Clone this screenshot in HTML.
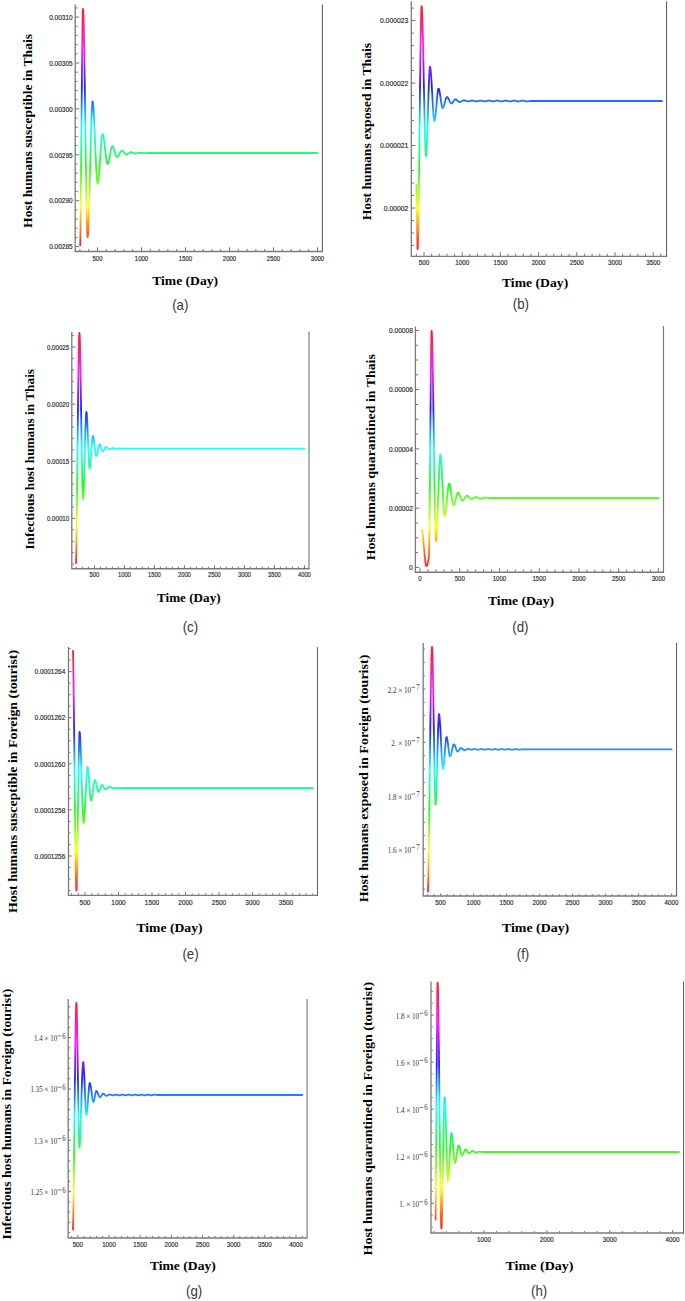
<!DOCTYPE html>
<html><head><meta charset="utf-8"><style>
html,body{margin:0;padding:0;background:#fff;}
svg{display:block;}
</style></head><body>
<svg width="685" height="1301" viewBox="0 0 685 1301">
<rect width="685" height="1301" fill="#fff"/>
<line x1="75.20" y1="4.40" x2="75.20" y2="251.50" stroke="#7a7a7a" stroke-width="1.3"/>
<line x1="74.60" y1="251.50" x2="322.90" y2="251.50" stroke="#7a7a7a" stroke-width="1.4"/>
<line x1="322.40" y1="4.40" x2="322.40" y2="251.50" stroke="#555" stroke-width="1"/>
<line x1="75.70" y1="246.60" x2="79.20" y2="246.60" stroke="#333" stroke-width="0.7"/>
<line x1="75.70" y1="237.42" x2="77.60" y2="237.42" stroke="#333" stroke-width="0.7"/>
<line x1="75.70" y1="228.24" x2="77.60" y2="228.24" stroke="#333" stroke-width="0.7"/>
<line x1="75.70" y1="219.06" x2="77.60" y2="219.06" stroke="#333" stroke-width="0.7"/>
<line x1="75.70" y1="209.88" x2="77.60" y2="209.88" stroke="#333" stroke-width="0.7"/>
<line x1="75.70" y1="200.70" x2="79.20" y2="200.70" stroke="#333" stroke-width="0.7"/>
<line x1="75.70" y1="191.52" x2="77.60" y2="191.52" stroke="#333" stroke-width="0.7"/>
<line x1="75.70" y1="182.34" x2="77.60" y2="182.34" stroke="#333" stroke-width="0.7"/>
<line x1="75.70" y1="173.16" x2="77.60" y2="173.16" stroke="#333" stroke-width="0.7"/>
<line x1="75.70" y1="163.98" x2="77.60" y2="163.98" stroke="#333" stroke-width="0.7"/>
<line x1="75.70" y1="154.80" x2="79.20" y2="154.80" stroke="#333" stroke-width="0.7"/>
<line x1="75.70" y1="145.62" x2="77.60" y2="145.62" stroke="#333" stroke-width="0.7"/>
<line x1="75.70" y1="136.44" x2="77.60" y2="136.44" stroke="#333" stroke-width="0.7"/>
<line x1="75.70" y1="127.26" x2="77.60" y2="127.26" stroke="#333" stroke-width="0.7"/>
<line x1="75.70" y1="118.08" x2="77.60" y2="118.08" stroke="#333" stroke-width="0.7"/>
<line x1="75.70" y1="108.90" x2="79.20" y2="108.90" stroke="#333" stroke-width="0.7"/>
<line x1="75.70" y1="99.72" x2="77.60" y2="99.72" stroke="#333" stroke-width="0.7"/>
<line x1="75.70" y1="90.54" x2="77.60" y2="90.54" stroke="#333" stroke-width="0.7"/>
<line x1="75.70" y1="81.36" x2="77.60" y2="81.36" stroke="#333" stroke-width="0.7"/>
<line x1="75.70" y1="72.18" x2="77.60" y2="72.18" stroke="#333" stroke-width="0.7"/>
<line x1="75.70" y1="63.00" x2="79.20" y2="63.00" stroke="#333" stroke-width="0.7"/>
<line x1="75.70" y1="53.82" x2="77.60" y2="53.82" stroke="#333" stroke-width="0.7"/>
<line x1="75.70" y1="44.64" x2="77.60" y2="44.64" stroke="#333" stroke-width="0.7"/>
<line x1="75.70" y1="35.46" x2="77.60" y2="35.46" stroke="#333" stroke-width="0.7"/>
<line x1="75.70" y1="26.28" x2="77.60" y2="26.28" stroke="#333" stroke-width="0.7"/>
<line x1="75.70" y1="17.10" x2="79.20" y2="17.10" stroke="#333" stroke-width="0.7"/>
<line x1="75.70" y1="7.92" x2="77.60" y2="7.92" stroke="#333" stroke-width="0.7"/>
<text transform="translate(72.60,249.30) scale(0.852,1)" font-family="'Liberation Sans', sans-serif" font-size="7.6" fill="#2a2a2a" stroke="#2a2a2a" stroke-width="0.18" text-anchor="end">0.00285</text>
<text transform="translate(72.60,203.40) scale(0.852,1)" font-family="'Liberation Sans', sans-serif" font-size="7.6" fill="#2a2a2a" stroke="#2a2a2a" stroke-width="0.18" text-anchor="end">0.00290</text>
<text transform="translate(72.60,157.50) scale(0.852,1)" font-family="'Liberation Sans', sans-serif" font-size="7.6" fill="#2a2a2a" stroke="#2a2a2a" stroke-width="0.18" text-anchor="end">0.00295</text>
<text transform="translate(72.60,111.60) scale(0.852,1)" font-family="'Liberation Sans', sans-serif" font-size="7.6" fill="#2a2a2a" stroke="#2a2a2a" stroke-width="0.18" text-anchor="end">0.00300</text>
<text transform="translate(72.60,65.70) scale(0.852,1)" font-family="'Liberation Sans', sans-serif" font-size="7.6" fill="#2a2a2a" stroke="#2a2a2a" stroke-width="0.18" text-anchor="end">0.00305</text>
<text transform="translate(72.60,19.80) scale(0.852,1)" font-family="'Liberation Sans', sans-serif" font-size="7.6" fill="#2a2a2a" stroke="#2a2a2a" stroke-width="0.18" text-anchor="end">0.00310</text>
<line x1="79.90" y1="250.90" x2="79.90" y2="249.00" stroke="#333" stroke-width="0.7"/>
<line x1="88.70" y1="250.90" x2="88.70" y2="249.00" stroke="#333" stroke-width="0.7"/>
<line x1="97.50" y1="250.90" x2="97.50" y2="247.40" stroke="#333" stroke-width="0.7"/>
<line x1="106.30" y1="250.90" x2="106.30" y2="249.00" stroke="#333" stroke-width="0.7"/>
<line x1="115.10" y1="250.90" x2="115.10" y2="249.00" stroke="#333" stroke-width="0.7"/>
<line x1="123.90" y1="250.90" x2="123.90" y2="249.00" stroke="#333" stroke-width="0.7"/>
<line x1="132.70" y1="250.90" x2="132.70" y2="249.00" stroke="#333" stroke-width="0.7"/>
<line x1="141.50" y1="250.90" x2="141.50" y2="247.40" stroke="#333" stroke-width="0.7"/>
<line x1="150.30" y1="250.90" x2="150.30" y2="249.00" stroke="#333" stroke-width="0.7"/>
<line x1="159.10" y1="250.90" x2="159.10" y2="249.00" stroke="#333" stroke-width="0.7"/>
<line x1="167.90" y1="250.90" x2="167.90" y2="249.00" stroke="#333" stroke-width="0.7"/>
<line x1="176.70" y1="250.90" x2="176.70" y2="249.00" stroke="#333" stroke-width="0.7"/>
<line x1="185.50" y1="250.90" x2="185.50" y2="247.40" stroke="#333" stroke-width="0.7"/>
<line x1="194.30" y1="250.90" x2="194.30" y2="249.00" stroke="#333" stroke-width="0.7"/>
<line x1="203.10" y1="250.90" x2="203.10" y2="249.00" stroke="#333" stroke-width="0.7"/>
<line x1="211.90" y1="250.90" x2="211.90" y2="249.00" stroke="#333" stroke-width="0.7"/>
<line x1="220.70" y1="250.90" x2="220.70" y2="249.00" stroke="#333" stroke-width="0.7"/>
<line x1="229.50" y1="250.90" x2="229.50" y2="247.40" stroke="#333" stroke-width="0.7"/>
<line x1="238.30" y1="250.90" x2="238.30" y2="249.00" stroke="#333" stroke-width="0.7"/>
<line x1="247.10" y1="250.90" x2="247.10" y2="249.00" stroke="#333" stroke-width="0.7"/>
<line x1="255.90" y1="250.90" x2="255.90" y2="249.00" stroke="#333" stroke-width="0.7"/>
<line x1="264.70" y1="250.90" x2="264.70" y2="249.00" stroke="#333" stroke-width="0.7"/>
<line x1="273.50" y1="250.90" x2="273.50" y2="247.40" stroke="#333" stroke-width="0.7"/>
<line x1="282.30" y1="250.90" x2="282.30" y2="249.00" stroke="#333" stroke-width="0.7"/>
<line x1="291.10" y1="250.90" x2="291.10" y2="249.00" stroke="#333" stroke-width="0.7"/>
<line x1="299.90" y1="250.90" x2="299.90" y2="249.00" stroke="#333" stroke-width="0.7"/>
<line x1="308.70" y1="250.90" x2="308.70" y2="249.00" stroke="#333" stroke-width="0.7"/>
<line x1="317.50" y1="250.90" x2="317.50" y2="247.40" stroke="#333" stroke-width="0.7"/>
<text transform="translate(97.50,260.70) scale(0.79,1)" font-family="'Liberation Sans', sans-serif" font-size="7.6" fill="#2a2a2a" stroke="#2a2a2a" stroke-width="0.18" text-anchor="middle">500</text>
<text transform="translate(141.50,260.70) scale(0.79,1)" font-family="'Liberation Sans', sans-serif" font-size="7.6" fill="#2a2a2a" stroke="#2a2a2a" stroke-width="0.18" text-anchor="middle">1000</text>
<text transform="translate(185.50,260.70) scale(0.79,1)" font-family="'Liberation Sans', sans-serif" font-size="7.6" fill="#2a2a2a" stroke="#2a2a2a" stroke-width="0.18" text-anchor="middle">1500</text>
<text transform="translate(229.50,260.70) scale(0.79,1)" font-family="'Liberation Sans', sans-serif" font-size="7.6" fill="#2a2a2a" stroke="#2a2a2a" stroke-width="0.18" text-anchor="middle">2000</text>
<text transform="translate(273.50,260.70) scale(0.79,1)" font-family="'Liberation Sans', sans-serif" font-size="7.6" fill="#2a2a2a" stroke="#2a2a2a" stroke-width="0.18" text-anchor="middle">2500</text>
<text transform="translate(317.50,260.70) scale(0.79,1)" font-family="'Liberation Sans', sans-serif" font-size="7.6" fill="#2a2a2a" stroke="#2a2a2a" stroke-width="0.18" text-anchor="middle">3000</text>
<linearGradient id="g0" gradientUnits="userSpaceOnUse" x1="0" y1="9.00" x2="0" y2="245.20"><stop offset="0.0000" stop-color="#ff1f1f"/><stop offset="0.1667" stop-color="#ff1fff"/><stop offset="0.3333" stop-color="#1f1fff"/><stop offset="0.5000" stop-color="#1fffff"/><stop offset="0.6667" stop-color="#1fff1f"/><stop offset="0.8333" stop-color="#ffff1f"/><stop offset="1.0000" stop-color="#ff1f1f"/></linearGradient>
<path d="M80.20,245.20 L80.36,237.24 L80.51,226.73 L80.67,214.03 L80.82,199.52 L80.98,183.54 L81.13,166.47 L81.29,148.67 L81.44,130.50 L81.60,112.34 L81.76,94.54 L81.91,77.47 L82.07,61.49 L82.22,46.97 L82.38,34.27 L82.53,23.76 L82.69,15.80 L82.84,10.76 L83.00,9.00 L83.15,9.74 L83.31,11.90 L83.46,15.38 L83.61,20.08 L83.77,25.89 L83.92,32.71 L84.07,40.45 L84.23,48.99 L84.38,58.25 L84.53,68.11 L84.69,78.48 L84.84,89.26 L84.99,100.34 L85.15,111.62 L85.30,123.00 L85.45,134.38 L85.61,145.66 L85.76,156.74 L85.91,167.52 L86.07,177.89 L86.22,187.75 L86.37,197.01 L86.53,205.55 L86.68,213.29 L86.83,220.11 L86.99,225.92 L87.14,230.62 L87.29,234.10 L87.45,236.26 L87.60,237.00 L87.75,236.63 L87.90,235.57 L88.05,233.84 L88.21,231.51 L88.36,228.60 L88.51,225.18 L88.66,221.28 L88.81,216.96 L88.96,212.24 L89.12,207.19 L89.27,201.84 L89.42,196.25 L89.57,190.45 L89.72,184.49 L89.87,178.42 L90.02,172.28 L90.18,166.12 L90.33,159.98 L90.48,153.91 L90.63,147.95 L90.78,142.15 L90.93,136.56 L91.08,131.21 L91.24,126.16 L91.39,121.44 L91.54,117.12 L91.69,113.22 L91.84,109.80 L91.99,106.89 L92.15,104.56 L92.30,102.83 L92.45,101.77 L92.60,101.40 L92.75,101.62 L92.90,102.27 L93.05,103.31 L93.21,104.73 L93.36,106.49 L93.51,108.56 L93.66,110.93 L93.81,113.55 L93.96,116.41 L94.12,119.47 L94.27,122.71 L94.42,126.10 L94.57,129.62 L94.72,133.23 L94.87,136.91 L95.02,140.63 L95.18,144.37 L95.33,148.09 L95.48,151.77 L95.63,155.38 L95.78,158.90 L95.93,162.29 L96.08,165.53 L96.24,168.59 L96.39,171.45 L96.54,174.07 L96.69,176.44 L96.84,178.51 L96.99,180.27 L97.15,181.69 L97.30,182.73 L97.45,183.38 L97.60,183.60 L97.75,183.47 L97.90,183.08 L98.05,182.44 L98.21,181.59 L98.36,180.53 L98.51,179.28 L98.66,177.85 L98.81,176.27 L98.96,174.54 L99.12,172.70 L99.27,170.74 L99.42,168.69 L99.57,166.57 L99.72,164.39 L99.87,162.17 L100.02,159.93 L100.18,157.67 L100.33,155.43 L100.48,153.21 L100.63,151.03 L100.78,148.91 L100.93,146.86 L101.08,144.90 L101.24,143.06 L101.39,141.33 L101.54,139.75 L101.69,138.32 L101.84,137.07 L101.99,136.01 L102.15,135.16 L102.30,134.52 L102.45,134.13 L102.60,134.00 L102.75,134.08 L102.90,134.32 L103.05,134.70 L103.21,135.22 L103.36,135.86 L103.51,136.61 L103.66,137.48 L103.81,138.43 L103.96,139.48 L104.12,140.59 L104.27,141.78 L104.42,143.02 L104.57,144.30 L104.72,145.62 L104.87,146.96 L105.02,148.32 L105.18,149.68 L105.33,151.04 L105.48,152.38 L105.63,153.70 L105.78,154.98 L105.93,156.22 L106.08,157.41 L106.24,158.52 L106.39,159.57 L106.54,160.52 L106.69,161.39 L106.84,162.14 L106.99,162.78 L107.15,163.30 L107.30,163.68 L107.45,163.92 L107.60,164.00 L107.75,163.95 L107.90,163.80 L108.05,163.56 L108.20,163.23 L108.35,162.82 L108.50,162.34 L108.65,161.79 L108.80,161.19 L108.95,160.53 L109.10,159.83 L109.25,159.08 L109.40,158.30 L109.55,157.50 L109.70,156.68 L109.85,155.84 L110.00,155.00 L110.15,154.16 L110.30,153.32 L110.45,152.50 L110.60,151.70 L110.75,150.92 L110.90,150.17 L111.05,149.47 L111.20,148.81 L111.35,148.21 L111.50,147.66 L111.65,147.18 L111.80,146.77 L111.95,146.44 L112.10,146.20 L112.25,146.05 L112.40,146.00 L112.55,146.04 L112.71,146.14 L112.86,146.31 L113.01,146.53 L113.17,146.81 L113.32,147.14 L113.47,147.52 L113.63,147.93 L113.78,148.38 L113.93,148.85 L114.09,149.35 L114.24,149.87 L114.39,150.41 L114.55,150.95 L114.70,151.50 L114.85,152.05 L115.01,152.59 L115.16,153.13 L115.31,153.65 L115.47,154.15 L115.62,154.62 L115.77,155.07 L115.93,155.48 L116.08,155.86 L116.23,156.19 L116.39,156.47 L116.54,156.69 L116.69,156.86 L116.85,156.96 L117.00,157.00 L117.15,156.98 L117.30,156.93 L117.45,156.85 L117.61,156.74 L117.76,156.60 L117.91,156.44 L118.06,156.26 L118.21,156.05 L118.36,155.83 L118.52,155.59 L118.67,155.34 L118.82,155.08 L118.97,154.80 L119.12,154.52 L119.27,154.24 L119.42,153.95 L119.58,153.65 L119.73,153.36 L119.88,153.08 L120.03,152.80 L120.18,152.52 L120.33,152.26 L120.48,152.01 L120.64,151.77 L120.79,151.55 L120.94,151.34 L121.09,151.16 L121.24,151.00 L121.39,150.86 L121.55,150.75 L121.70,150.67 L121.85,150.62 L122.00,150.60 L122.15,150.61 L122.30,150.65 L122.46,150.71 L122.61,150.80 L122.76,150.90 L122.91,151.02 L123.06,151.16 L123.21,151.31 L123.37,151.47 L123.52,151.64 L123.67,151.83 L123.82,152.01 L123.97,152.21 L124.12,152.40 L124.28,152.60 L124.43,152.79 L124.58,152.99 L124.73,153.17 L124.88,153.36 L125.03,153.53 L125.19,153.69 L125.34,153.84 L125.49,153.98 L125.64,154.10 L125.79,154.20 L125.94,154.29 L126.10,154.35 L126.25,154.39 L126.40,154.40 L126.55,154.39 L126.70,154.37 L126.86,154.33 L127.01,154.28 L127.16,154.22 L127.31,154.15 L127.46,154.07 L127.61,153.98 L127.77,153.89 L127.92,153.78 L128.07,153.68 L128.22,153.57 L128.37,153.45 L128.52,153.34 L128.68,153.22 L128.83,153.11 L128.98,152.99 L129.13,152.88 L129.28,152.78 L129.43,152.67 L129.59,152.58 L129.74,152.49 L129.89,152.41 L130.04,152.34 L130.19,152.28 L130.34,152.23 L130.50,152.19 L130.65,152.17 L130.80,152.16 L130.95,152.16 L131.10,152.18 L131.26,152.20 L131.41,152.23 L131.56,152.27 L131.71,152.31 L131.86,152.36 L132.01,152.41 L132.17,152.47 L132.32,152.53 L132.47,152.59 L132.62,152.66 L132.77,152.73 L132.92,152.80 L133.08,152.87 L133.23,152.94 L133.38,153.00 L133.53,153.07 L133.68,153.13 L133.83,153.20 L133.99,153.25 L134.14,153.31 L134.29,153.36 L134.44,153.40 L134.59,153.43 L134.74,153.46 L134.90,153.49 L135.05,153.50 L135.20,153.50 L135.35,153.50 L135.50,153.49 L135.66,153.48 L135.81,153.46 L135.96,153.44 L136.11,153.41 L136.26,153.39 L136.41,153.35 L136.57,153.32 L136.72,153.28 L136.87,153.24 L137.02,153.20 L137.17,153.16 L137.32,153.12 L137.48,153.08 L137.63,153.04 L137.78,153.00 L137.93,152.96 L138.08,152.92 L138.23,152.88 L138.39,152.85 L138.54,152.82 L138.69,152.79 L138.84,152.76 L138.99,152.74 L139.14,152.72 L139.30,152.71 L139.45,152.70 L139.60,152.70 L139.75,152.70 L139.90,152.70 L140.06,152.71 L140.21,152.72 L140.36,152.74 L140.51,152.75 L140.66,152.77 L140.81,152.79 L140.97,152.81 L141.12,152.83 L141.27,152.85 L141.42,152.88 L141.57,152.90 L141.72,152.93 L141.88,152.95 L142.03,152.98 L142.18,153.00 L142.33,153.03 L142.48,153.05 L142.63,153.07 L142.79,153.09 L142.94,153.11 L143.09,153.13 L143.24,153.14 L143.39,153.16 L143.54,153.17 L143.70,153.17 L143.85,153.18 L144.00,153.18 L144.15,153.18 L144.30,153.18 L144.46,153.18 L144.61,153.17 L144.76,153.17 L144.91,153.16 L145.06,153.15 L145.21,153.15 L145.37,153.14 L145.52,153.13 L145.67,153.12 L145.82,153.11 L145.97,153.10 L146.12,153.10 L146.28,153.09 L146.43,153.08 L146.58,153.07 L146.73,153.06 L146.88,153.05 L147.03,153.04 L147.19,153.03 L147.34,153.03 L147.49,153.02 L147.64,153.01 L147.79,153.01 L147.94,153.01 L148.10,153.00 L148.25,153.00 L148.40,153.00 L317.50,153.00" fill="none" stroke="url(#g0)" stroke-width="1.8" stroke-linejoin="round" stroke-linecap="round"/>
<text transform="translate(31.9,130.95) rotate(-90)" x="0" y="0" font-family="'Liberation Serif', serif" font-weight="bold" font-size="13.4" text-anchor="middle" textLength="193.9" lengthAdjust="spacingAndGlyphs" fill="#000">Host humans susceptible in Thais</text>
<text x="185.15" y="284.6" font-family="'Liberation Serif', serif" font-weight="bold" font-size="13.4" text-anchor="middle" textLength="65.9" lengthAdjust="spacingAndGlyphs" fill="#000">Time (Day)</text>
<text transform="translate(180.3,309.7) scale(0.95,1)" font-family="'Liberation Sans', sans-serif" font-size="14" fill="#383838" text-anchor="middle">(a)</text>
<line x1="411.30" y1="1.20" x2="411.30" y2="256.40" stroke="#7a7a7a" stroke-width="1.3"/>
<line x1="410.70" y1="256.40" x2="667.10" y2="256.40" stroke="#7a7a7a" stroke-width="1.4"/>
<line x1="666.60" y1="1.20" x2="666.60" y2="256.40" stroke="#555" stroke-width="1"/>
<line x1="411.80" y1="245.48" x2="413.90" y2="245.48" stroke="#333" stroke-width="0.7"/>
<line x1="411.80" y1="232.99" x2="413.90" y2="232.99" stroke="#333" stroke-width="0.7"/>
<line x1="411.80" y1="220.49" x2="413.90" y2="220.49" stroke="#333" stroke-width="0.7"/>
<line x1="411.80" y1="208.00" x2="415.40" y2="208.00" stroke="#333" stroke-width="0.7"/>
<line x1="411.80" y1="195.51" x2="413.90" y2="195.51" stroke="#333" stroke-width="0.7"/>
<line x1="411.80" y1="183.01" x2="413.90" y2="183.01" stroke="#333" stroke-width="0.7"/>
<line x1="411.80" y1="170.52" x2="413.90" y2="170.52" stroke="#333" stroke-width="0.7"/>
<line x1="411.80" y1="158.02" x2="413.90" y2="158.02" stroke="#333" stroke-width="0.7"/>
<line x1="411.80" y1="145.53" x2="415.40" y2="145.53" stroke="#333" stroke-width="0.7"/>
<line x1="411.80" y1="133.04" x2="413.90" y2="133.04" stroke="#333" stroke-width="0.7"/>
<line x1="411.80" y1="120.54" x2="413.90" y2="120.54" stroke="#333" stroke-width="0.7"/>
<line x1="411.80" y1="108.05" x2="413.90" y2="108.05" stroke="#333" stroke-width="0.7"/>
<line x1="411.80" y1="95.55" x2="413.90" y2="95.55" stroke="#333" stroke-width="0.7"/>
<line x1="411.80" y1="83.06" x2="415.40" y2="83.06" stroke="#333" stroke-width="0.7"/>
<line x1="411.80" y1="70.57" x2="413.90" y2="70.57" stroke="#333" stroke-width="0.7"/>
<line x1="411.80" y1="58.07" x2="413.90" y2="58.07" stroke="#333" stroke-width="0.7"/>
<line x1="411.80" y1="45.58" x2="413.90" y2="45.58" stroke="#333" stroke-width="0.7"/>
<line x1="411.80" y1="33.08" x2="413.90" y2="33.08" stroke="#333" stroke-width="0.7"/>
<line x1="411.80" y1="20.59" x2="415.40" y2="20.59" stroke="#333" stroke-width="0.7"/>
<line x1="411.80" y1="8.10" x2="413.90" y2="8.10" stroke="#333" stroke-width="0.7"/>
<text transform="translate(408.30,210.70) scale(0.896,1)" font-family="'Liberation Sans', sans-serif" font-size="7.6" fill="#2a2a2a" stroke="#2a2a2a" stroke-width="0.18" text-anchor="end">0.00002</text>
<text transform="translate(408.30,148.23) scale(0.896,1)" font-family="'Liberation Sans', sans-serif" font-size="7.6" fill="#2a2a2a" stroke="#2a2a2a" stroke-width="0.18" text-anchor="end">0.000021</text>
<text transform="translate(408.30,85.76) scale(0.896,1)" font-family="'Liberation Sans', sans-serif" font-size="7.6" fill="#2a2a2a" stroke="#2a2a2a" stroke-width="0.18" text-anchor="end">0.000022</text>
<text transform="translate(408.30,23.29) scale(0.896,1)" font-family="'Liberation Sans', sans-serif" font-size="7.6" fill="#2a2a2a" stroke="#2a2a2a" stroke-width="0.18" text-anchor="end">0.000023</text>
<line x1="416.36" y1="255.80" x2="416.36" y2="253.70" stroke="#333" stroke-width="0.7"/>
<line x1="424.00" y1="255.80" x2="424.00" y2="252.20" stroke="#333" stroke-width="0.7"/>
<line x1="431.64" y1="255.80" x2="431.64" y2="253.70" stroke="#333" stroke-width="0.7"/>
<line x1="439.28" y1="255.80" x2="439.28" y2="253.70" stroke="#333" stroke-width="0.7"/>
<line x1="446.92" y1="255.80" x2="446.92" y2="253.70" stroke="#333" stroke-width="0.7"/>
<line x1="454.56" y1="255.80" x2="454.56" y2="253.70" stroke="#333" stroke-width="0.7"/>
<line x1="462.20" y1="255.80" x2="462.20" y2="252.20" stroke="#333" stroke-width="0.7"/>
<line x1="469.84" y1="255.80" x2="469.84" y2="253.70" stroke="#333" stroke-width="0.7"/>
<line x1="477.48" y1="255.80" x2="477.48" y2="253.70" stroke="#333" stroke-width="0.7"/>
<line x1="485.12" y1="255.80" x2="485.12" y2="253.70" stroke="#333" stroke-width="0.7"/>
<line x1="492.76" y1="255.80" x2="492.76" y2="253.70" stroke="#333" stroke-width="0.7"/>
<line x1="500.40" y1="255.80" x2="500.40" y2="252.20" stroke="#333" stroke-width="0.7"/>
<line x1="508.04" y1="255.80" x2="508.04" y2="253.70" stroke="#333" stroke-width="0.7"/>
<line x1="515.68" y1="255.80" x2="515.68" y2="253.70" stroke="#333" stroke-width="0.7"/>
<line x1="523.32" y1="255.80" x2="523.32" y2="253.70" stroke="#333" stroke-width="0.7"/>
<line x1="530.96" y1="255.80" x2="530.96" y2="253.70" stroke="#333" stroke-width="0.7"/>
<line x1="538.60" y1="255.80" x2="538.60" y2="252.20" stroke="#333" stroke-width="0.7"/>
<line x1="546.24" y1="255.80" x2="546.24" y2="253.70" stroke="#333" stroke-width="0.7"/>
<line x1="553.88" y1="255.80" x2="553.88" y2="253.70" stroke="#333" stroke-width="0.7"/>
<line x1="561.52" y1="255.80" x2="561.52" y2="253.70" stroke="#333" stroke-width="0.7"/>
<line x1="569.16" y1="255.80" x2="569.16" y2="253.70" stroke="#333" stroke-width="0.7"/>
<line x1="576.80" y1="255.80" x2="576.80" y2="252.20" stroke="#333" stroke-width="0.7"/>
<line x1="584.44" y1="255.80" x2="584.44" y2="253.70" stroke="#333" stroke-width="0.7"/>
<line x1="592.08" y1="255.80" x2="592.08" y2="253.70" stroke="#333" stroke-width="0.7"/>
<line x1="599.72" y1="255.80" x2="599.72" y2="253.70" stroke="#333" stroke-width="0.7"/>
<line x1="607.36" y1="255.80" x2="607.36" y2="253.70" stroke="#333" stroke-width="0.7"/>
<line x1="615.00" y1="255.80" x2="615.00" y2="252.20" stroke="#333" stroke-width="0.7"/>
<line x1="622.64" y1="255.80" x2="622.64" y2="253.70" stroke="#333" stroke-width="0.7"/>
<line x1="630.28" y1="255.80" x2="630.28" y2="253.70" stroke="#333" stroke-width="0.7"/>
<line x1="637.92" y1="255.80" x2="637.92" y2="253.70" stroke="#333" stroke-width="0.7"/>
<line x1="645.56" y1="255.80" x2="645.56" y2="253.70" stroke="#333" stroke-width="0.7"/>
<line x1="653.20" y1="255.80" x2="653.20" y2="252.20" stroke="#333" stroke-width="0.7"/>
<line x1="660.84" y1="255.80" x2="660.84" y2="253.70" stroke="#333" stroke-width="0.7"/>
<text transform="translate(424.00,265.30) scale(0.825,1)" font-family="'Liberation Sans', sans-serif" font-size="7.6" fill="#2a2a2a" stroke="#2a2a2a" stroke-width="0.18" text-anchor="middle">500</text>
<text transform="translate(462.20,265.30) scale(0.825,1)" font-family="'Liberation Sans', sans-serif" font-size="7.6" fill="#2a2a2a" stroke="#2a2a2a" stroke-width="0.18" text-anchor="middle">1000</text>
<text transform="translate(500.40,265.30) scale(0.825,1)" font-family="'Liberation Sans', sans-serif" font-size="7.6" fill="#2a2a2a" stroke="#2a2a2a" stroke-width="0.18" text-anchor="middle">1500</text>
<text transform="translate(538.60,265.30) scale(0.825,1)" font-family="'Liberation Sans', sans-serif" font-size="7.6" fill="#2a2a2a" stroke="#2a2a2a" stroke-width="0.18" text-anchor="middle">2000</text>
<text transform="translate(576.80,265.30) scale(0.825,1)" font-family="'Liberation Sans', sans-serif" font-size="7.6" fill="#2a2a2a" stroke="#2a2a2a" stroke-width="0.18" text-anchor="middle">2500</text>
<text transform="translate(615.00,265.30) scale(0.825,1)" font-family="'Liberation Sans', sans-serif" font-size="7.6" fill="#2a2a2a" stroke="#2a2a2a" stroke-width="0.18" text-anchor="middle">3000</text>
<text transform="translate(653.20,265.30) scale(0.825,1)" font-family="'Liberation Sans', sans-serif" font-size="7.6" fill="#2a2a2a" stroke="#2a2a2a" stroke-width="0.18" text-anchor="middle">3500</text>
<linearGradient id="g1" gradientUnits="userSpaceOnUse" x1="0" y1="6.20" x2="0" y2="249.00"><stop offset="0.0000" stop-color="#ff1f1f"/><stop offset="0.1667" stop-color="#ff1fff"/><stop offset="0.3333" stop-color="#1f1fff"/><stop offset="0.5000" stop-color="#1fffff"/><stop offset="0.6667" stop-color="#1fff1f"/><stop offset="0.8333" stop-color="#ffff1f"/><stop offset="1.0000" stop-color="#ff1f1f"/></linearGradient>
<path d="M416.40,185.00 L416.55,190.81 L416.70,199.50 L416.85,209.94 L417.00,221.00 L417.15,231.56 L417.30,240.50 L417.45,246.69 L417.60,249.00 L417.75,247.95 L417.91,244.91 L418.06,240.05 L418.22,233.53 L418.37,225.52 L418.52,216.18 L418.68,205.68 L418.83,194.18 L418.98,181.86 L419.14,168.88 L419.29,155.39 L419.45,141.58 L419.60,127.60 L419.75,113.62 L419.91,99.81 L420.06,86.32 L420.22,73.34 L420.37,61.02 L420.52,49.52 L420.68,39.02 L420.83,29.68 L420.98,21.67 L421.14,15.15 L421.29,10.29 L421.45,7.25 L421.60,6.20 L421.75,6.72 L421.90,8.24 L422.06,10.68 L422.21,13.96 L422.36,18.02 L422.51,22.78 L422.66,28.17 L422.81,34.11 L422.97,40.53 L423.12,47.35 L423.27,54.51 L423.42,61.92 L423.57,69.52 L423.72,77.23 L423.88,84.97 L424.03,92.68 L424.18,100.28 L424.33,107.69 L424.48,114.85 L424.63,121.67 L424.79,128.09 L424.94,134.03 L425.09,139.42 L425.24,144.18 L425.39,148.24 L425.54,151.52 L425.70,153.96 L425.85,155.48 L426.00,156.00 L426.15,155.61 L426.31,154.49 L426.46,152.70 L426.62,150.30 L426.77,147.35 L426.92,143.91 L427.08,140.05 L427.23,135.82 L427.38,131.28 L427.54,126.50 L427.69,121.53 L427.85,116.45 L428.00,111.30 L428.15,106.15 L428.31,101.07 L428.46,96.10 L428.62,91.32 L428.77,86.78 L428.92,82.55 L429.08,78.69 L429.23,75.25 L429.38,72.30 L429.54,69.90 L429.69,68.11 L429.85,66.99 L430.00,66.60 L430.15,66.79 L430.30,67.34 L430.46,68.23 L430.61,69.42 L430.76,70.89 L430.91,72.62 L431.06,74.58 L431.21,76.74 L431.37,79.07 L431.52,81.54 L431.67,84.14 L431.82,86.84 L431.97,89.59 L432.12,92.39 L432.28,95.21 L432.43,98.01 L432.58,100.76 L432.73,103.46 L432.88,106.06 L433.03,108.53 L433.19,110.86 L433.34,113.02 L433.49,114.98 L433.64,116.71 L433.79,118.18 L433.94,119.37 L434.10,120.26 L434.25,120.81 L434.40,121.00 L434.55,120.88 L434.70,120.53 L434.85,119.96 L435.00,119.21 L435.15,118.27 L435.30,117.17 L435.45,115.94 L435.60,114.58 L435.75,113.11 L435.90,111.55 L436.05,109.93 L436.20,108.25 L436.35,106.53 L436.50,104.80 L436.65,103.07 L436.80,101.35 L436.95,99.67 L437.10,98.05 L437.25,96.49 L437.40,95.02 L437.55,93.66 L437.70,92.43 L437.85,91.33 L438.00,90.39 L438.15,89.64 L438.30,89.07 L438.45,88.72 L438.60,88.60 L438.75,88.68 L438.91,88.93 L439.06,89.32 L439.22,89.84 L439.37,90.48 L439.52,91.22 L439.68,92.06 L439.83,92.98 L439.98,93.96 L440.14,95.00 L440.29,96.08 L440.45,97.18 L440.60,98.30 L440.75,99.42 L440.91,100.52 L441.06,101.60 L441.22,102.64 L441.37,103.62 L441.52,104.54 L441.68,105.38 L441.83,106.12 L441.98,106.76 L442.14,107.28 L442.29,107.67 L442.45,107.92 L442.60,108.00 L442.75,107.96 L442.90,107.85 L443.06,107.67 L443.21,107.43 L443.36,107.13 L443.51,106.78 L443.66,106.39 L443.81,105.95 L443.97,105.48 L444.12,104.98 L444.27,104.45 L444.42,103.91 L444.57,103.35 L444.72,102.78 L444.88,102.22 L445.03,101.65 L445.18,101.09 L445.33,100.55 L445.48,100.02 L445.63,99.52 L445.79,99.05 L445.94,98.61 L446.09,98.22 L446.24,97.87 L446.39,97.57 L446.54,97.33 L446.70,97.15 L446.85,97.04 L447.00,97.00 L447.15,97.02 L447.30,97.09 L447.46,97.19 L447.61,97.33 L447.76,97.51 L447.91,97.71 L448.06,97.94 L448.21,98.19 L448.37,98.47 L448.52,98.76 L448.67,99.06 L448.82,99.38 L448.97,99.71 L449.12,100.03 L449.28,100.37 L449.43,100.69 L449.58,101.02 L449.73,101.34 L449.88,101.64 L450.03,101.93 L450.19,102.21 L450.34,102.46 L450.49,102.69 L450.64,102.89 L450.79,103.07 L450.94,103.21 L451.10,103.31 L451.25,103.38 L451.40,103.40 L451.55,103.38 L451.71,103.33 L451.86,103.25 L452.02,103.15 L452.17,103.01 L452.32,102.86 L452.48,102.69 L452.63,102.50 L452.78,102.29 L452.94,102.08 L453.09,101.86 L453.25,101.63 L453.40,101.40 L453.55,101.17 L453.71,100.94 L453.86,100.72 L454.02,100.51 L454.17,100.30 L454.32,100.11 L454.48,99.94 L454.63,99.79 L454.78,99.65 L454.94,99.55 L455.09,99.47 L455.25,99.42 L455.40,99.40 L455.55,99.41 L455.70,99.44 L455.85,99.48 L456.00,99.54 L456.15,99.62 L456.30,99.71 L456.45,99.81 L456.60,99.92 L456.75,100.03 L456.90,100.16 L457.05,100.29 L457.20,100.42 L457.35,100.56 L457.50,100.70 L457.65,100.84 L457.80,100.98 L457.95,101.11 L458.10,101.24 L458.25,101.37 L458.40,101.48 L458.55,101.59 L458.70,101.69 L458.85,101.78 L459.00,101.86 L459.15,101.92 L459.30,101.96 L459.45,101.99 L459.60,102.00 L459.75,101.99 L459.90,101.98 L460.05,101.95 L460.20,101.91 L460.35,101.87 L460.50,101.81 L460.65,101.75 L460.80,101.68 L460.95,101.61 L461.10,101.53 L461.25,101.45 L461.40,101.37 L461.55,101.29 L461.70,101.20 L461.85,101.11 L462.00,101.03 L462.15,100.95 L462.30,100.87 L462.45,100.79 L462.60,100.72 L462.75,100.65 L462.90,100.59 L463.05,100.53 L463.20,100.49 L463.35,100.45 L463.50,100.42 L463.65,100.41 L463.80,100.40 L463.95,100.40 L464.10,100.41 L464.25,100.43 L464.40,100.45 L464.55,100.48 L464.70,100.52 L464.85,100.55 L465.00,100.59 L465.15,100.64 L465.30,100.69 L465.45,100.73 L465.60,100.79 L465.75,100.84 L465.90,100.89 L466.05,100.94 L466.20,100.99 L466.35,101.05 L466.50,101.09 L466.65,101.14 L466.80,101.19 L466.95,101.23 L467.10,101.26 L467.25,101.30 L467.40,101.33 L467.55,101.35 L467.70,101.37 L467.85,101.38 L468.00,101.38 L468.15,101.38 L468.30,101.37 L468.45,101.36 L468.60,101.34 L468.75,101.32 L468.90,101.29 L469.05,101.26 L469.20,101.23 L469.35,101.19 L469.50,101.16 L469.65,101.12 L469.80,101.08 L469.95,101.04 L470.10,101.00 L470.25,100.96 L470.40,100.92 L470.55,100.88 L470.70,100.84 L470.85,100.81 L471.00,100.77 L471.15,100.74 L471.30,100.71 L471.45,100.68 L471.60,100.66 L471.75,100.64 L471.90,100.63 L472.05,100.62 L472.20,100.62 L472.35,100.62 L472.50,100.63 L472.65,100.64 L472.80,100.66 L472.95,100.68 L473.10,100.71 L473.25,100.74 L473.40,100.77 L473.55,100.81 L473.70,100.84 L473.85,100.88 L474.00,100.92 L474.15,100.96 L474.30,101.00 L474.45,101.04 L474.60,101.08 L474.75,101.12 L474.90,101.16 L475.05,101.19 L475.20,101.23 L475.35,101.26 L475.50,101.29 L475.65,101.32 L475.80,101.34 L475.95,101.36 L476.10,101.37 L476.25,101.38 L476.40,101.38 L476.55,101.38 L476.70,101.37 L476.85,101.36 L477.00,101.34 L477.15,101.32 L477.30,101.29 L477.45,101.26 L477.60,101.23 L477.75,101.19 L477.90,101.16 L478.05,101.12 L478.20,101.08 L478.35,101.04 L478.50,101.00 L478.65,100.96 L478.80,100.92 L478.95,100.88 L479.10,100.84 L479.25,100.81 L479.40,100.77 L479.55,100.74 L479.70,100.71 L479.85,100.68 L480.00,100.66 L480.15,100.64 L480.30,100.63 L480.45,100.62 L480.60,100.62 L480.75,100.62 L480.90,100.63 L481.05,100.64 L481.20,100.66 L481.35,100.68 L481.50,100.71 L481.65,100.74 L481.80,100.77 L481.95,100.81 L482.10,100.84 L482.25,100.88 L482.40,100.92 L482.55,100.96 L482.70,101.00 L482.85,101.04 L483.00,101.08 L483.15,101.12 L483.30,101.16 L483.45,101.19 L483.60,101.23 L483.75,101.26 L483.90,101.29 L484.05,101.32 L484.20,101.34 L484.35,101.36 L484.50,101.37 L484.65,101.38 L484.80,101.38 L484.95,101.38 L485.10,101.37 L485.25,101.36 L485.40,101.34 L485.55,101.32 L485.70,101.29 L485.85,101.26 L486.00,101.23 L486.15,101.19 L486.30,101.16 L486.45,101.12 L486.60,101.08 L486.75,101.04 L486.90,101.00 L487.05,100.96 L487.20,100.92 L487.35,100.88 L487.50,100.84 L487.65,100.81 L487.80,100.77 L487.95,100.74 L488.10,100.71 L488.25,100.68 L488.40,100.66 L488.55,100.64 L488.70,100.63 L488.85,100.62 L489.00,100.62 L489.15,100.62 L489.30,100.63 L489.45,100.64 L489.60,100.66 L489.75,100.68 L489.90,100.71 L490.05,100.74 L490.20,100.77 L490.35,100.81 L490.50,100.84 L490.65,100.88 L490.80,100.92 L490.95,100.96 L491.10,101.00 L491.25,101.04 L491.40,101.08 L491.55,101.12 L491.70,101.16 L491.85,101.19 L492.00,101.23 L492.15,101.26 L492.30,101.29 L492.45,101.32 L492.60,101.34 L492.75,101.36 L492.90,101.37 L493.05,101.38 L493.20,101.38 L493.35,101.38 L493.50,101.37 L493.65,101.36 L493.80,101.34 L493.95,101.32 L494.10,101.29 L494.25,101.26 L494.40,101.23 L494.55,101.19 L494.70,101.16 L494.85,101.12 L495.00,101.08 L495.15,101.04 L495.30,101.00 L495.45,100.96 L495.60,100.92 L495.75,100.88 L495.90,100.84 L496.05,100.81 L496.20,100.77 L496.35,100.74 L496.50,100.71 L496.65,100.68 L496.80,100.66 L496.95,100.64 L497.10,100.63 L497.25,100.62 L497.40,100.62 L497.55,100.62 L497.70,100.63 L497.85,100.64 L498.00,100.66 L498.15,100.68 L498.30,100.71 L498.45,100.74 L498.60,100.77 L498.75,100.81 L498.90,100.84 L499.05,100.88 L499.20,100.92 L499.35,100.96 L499.50,101.00 L499.65,101.04 L499.80,101.08 L499.95,101.12 L500.10,101.16 L500.25,101.19 L500.40,101.23 L500.55,101.26 L500.70,101.29 L500.85,101.32 L501.00,101.34 L501.15,101.36 L501.30,101.37 L501.45,101.38 L501.60,101.38 L501.75,101.38 L501.90,101.37 L502.05,101.36 L502.20,101.34 L502.35,101.32 L502.50,101.29 L502.65,101.26 L502.80,101.23 L502.95,101.19 L503.10,101.16 L503.25,101.12 L503.40,101.08 L503.55,101.04 L503.70,101.00 L503.85,100.96 L504.00,100.92 L504.15,100.88 L504.30,100.84 L504.45,100.81 L504.60,100.77 L504.75,100.74 L504.90,100.71 L505.05,100.68 L505.20,100.66 L505.35,100.64 L505.50,100.63 L505.65,100.62 L505.80,100.62 L505.95,100.62 L506.10,100.63 L506.25,100.64 L506.40,100.66 L506.55,100.68 L506.70,100.71 L506.85,100.74 L507.00,100.77 L507.15,100.81 L507.30,100.84 L507.45,100.88 L507.60,100.92 L507.75,100.96 L507.90,101.00 L508.05,101.04 L508.20,101.08 L508.35,101.12 L508.50,101.16 L508.65,101.19 L508.80,101.23 L508.95,101.26 L509.10,101.29 L509.25,101.32 L509.40,101.34 L509.55,101.36 L509.70,101.37 L509.85,101.38 L510.00,101.38 L510.15,101.38 L510.30,101.37 L510.45,101.36 L510.60,101.34 L510.75,101.32 L510.90,101.29 L511.05,101.26 L511.20,101.23 L511.35,101.19 L511.50,101.16 L511.65,101.12 L511.80,101.08 L511.95,101.04 L512.10,101.00 L512.25,100.96 L512.40,100.92 L512.55,100.88 L512.70,100.84 L512.85,100.81 L513.00,100.77 L513.15,100.74 L513.30,100.71 L513.45,100.68 L513.60,100.66 L513.75,100.64 L513.90,100.63 L514.05,100.62 L514.20,100.62 L514.35,100.62 L514.50,100.63 L514.65,100.64 L514.80,100.66 L514.95,100.68 L515.10,100.71 L515.25,100.74 L515.40,100.77 L515.55,100.81 L515.70,100.84 L515.85,100.88 L516.00,100.92 L516.15,100.96 L516.30,101.00 L516.45,101.04 L516.60,101.08 L516.75,101.12 L516.90,101.16 L517.05,101.19 L517.20,101.23 L517.35,101.26 L517.50,101.29 L517.65,101.32 L517.80,101.34 L517.95,101.36 L518.10,101.37 L518.25,101.38 L518.40,101.38 L518.55,101.38 L518.70,101.37 L518.85,101.36 L519.00,101.34 L519.15,101.32 L519.30,101.29 L519.45,101.26 L519.60,101.23 L519.75,101.19 L519.90,101.16 L520.05,101.12 L520.20,101.08 L520.35,101.04 L520.50,101.00 L520.65,100.96 L520.80,100.92 L520.95,100.88 L521.10,100.84 L521.25,100.81 L521.40,100.77 L521.55,100.74 L521.70,100.71 L521.85,100.68 L522.00,100.66 L522.15,100.64 L522.30,100.63 L522.45,100.62 L522.60,100.62 L522.75,100.62 L522.90,100.63 L523.05,100.64 L523.20,100.66 L523.35,100.68 L523.50,100.71 L523.65,100.74 L523.80,100.77 L523.95,100.81 L524.10,100.84 L524.25,100.88 L524.40,100.92 L524.55,100.96 L524.70,101.00 L524.85,101.04 L525.00,101.08 L525.15,101.12 L525.30,101.16 L525.45,101.19 L525.60,101.23 L525.75,101.26 L525.90,101.29 L526.05,101.32 L526.20,101.34 L526.35,101.36 L526.50,101.37 L526.65,101.38 L526.80,101.38 L526.95,101.38 L527.10,101.37 L527.25,101.37 L527.40,101.36 L527.55,101.35 L527.70,101.34 L527.85,101.32 L528.00,101.30 L528.15,101.29 L528.30,101.27 L528.45,101.25 L528.60,101.23 L528.75,101.21 L528.90,101.19 L529.05,101.17 L529.20,101.15 L529.35,101.13 L529.50,101.11 L529.65,101.09 L529.80,101.08 L529.95,101.06 L530.10,101.04 L530.25,101.03 L530.40,101.02 L530.55,101.01 L530.70,101.01 L530.85,101.00 L531.00,101.00 L662.00,101.00" fill="none" stroke="url(#g1)" stroke-width="1.8" stroke-linejoin="round" stroke-linecap="round"/>
<text transform="translate(370.8,131.60) rotate(-90)" x="0" y="0" font-family="'Liberation Serif', serif" font-weight="bold" font-size="13.4" text-anchor="middle" textLength="177.4" lengthAdjust="spacingAndGlyphs" fill="#000">Host humans exposed in Thais</text>
<text x="535.10" y="287" font-family="'Liberation Serif', serif" font-weight="bold" font-size="13.4" text-anchor="middle" textLength="66.2" lengthAdjust="spacingAndGlyphs" fill="#000">Time (Day)</text>
<text transform="translate(520.9,309.40000000000003) scale(0.95,1)" font-family="'Liberation Sans', sans-serif" font-size="14" fill="#383838" text-anchor="middle">(b)</text>
<line x1="71.80" y1="332.00" x2="71.80" y2="568.80" stroke="#7a7a7a" stroke-width="1.3"/>
<line x1="71.20" y1="568.80" x2="309.50" y2="568.80" stroke="#7a7a7a" stroke-width="1.4"/>
<line x1="309.00" y1="331.40" x2="309.00" y2="568.80" stroke="#8a8a8a" stroke-width="1.3"/>
<line x1="72.30" y1="564.10" x2="73.80" y2="564.10" stroke="#333" stroke-width="0.7"/>
<line x1="72.30" y1="552.68" x2="73.80" y2="552.68" stroke="#333" stroke-width="0.7"/>
<line x1="72.30" y1="541.25" x2="73.80" y2="541.25" stroke="#333" stroke-width="0.7"/>
<line x1="72.30" y1="529.83" x2="73.80" y2="529.83" stroke="#333" stroke-width="0.7"/>
<line x1="72.30" y1="518.40" x2="75.30" y2="518.40" stroke="#333" stroke-width="0.7"/>
<line x1="72.30" y1="506.97" x2="73.80" y2="506.97" stroke="#333" stroke-width="0.7"/>
<line x1="72.30" y1="495.55" x2="73.80" y2="495.55" stroke="#333" stroke-width="0.7"/>
<line x1="72.30" y1="484.12" x2="73.80" y2="484.12" stroke="#333" stroke-width="0.7"/>
<line x1="72.30" y1="472.70" x2="73.80" y2="472.70" stroke="#333" stroke-width="0.7"/>
<line x1="72.30" y1="461.27" x2="75.30" y2="461.27" stroke="#333" stroke-width="0.7"/>
<line x1="72.30" y1="449.84" x2="73.80" y2="449.84" stroke="#333" stroke-width="0.7"/>
<line x1="72.30" y1="438.42" x2="73.80" y2="438.42" stroke="#333" stroke-width="0.7"/>
<line x1="72.30" y1="426.99" x2="73.80" y2="426.99" stroke="#333" stroke-width="0.7"/>
<line x1="72.30" y1="415.57" x2="73.80" y2="415.57" stroke="#333" stroke-width="0.7"/>
<line x1="72.30" y1="404.14" x2="75.30" y2="404.14" stroke="#333" stroke-width="0.7"/>
<line x1="72.30" y1="392.71" x2="73.80" y2="392.71" stroke="#333" stroke-width="0.7"/>
<line x1="72.30" y1="381.29" x2="73.80" y2="381.29" stroke="#333" stroke-width="0.7"/>
<line x1="72.30" y1="369.86" x2="73.80" y2="369.86" stroke="#333" stroke-width="0.7"/>
<line x1="72.30" y1="358.44" x2="73.80" y2="358.44" stroke="#333" stroke-width="0.7"/>
<line x1="72.30" y1="347.01" x2="75.30" y2="347.01" stroke="#333" stroke-width="0.7"/>
<line x1="72.30" y1="335.58" x2="73.80" y2="335.58" stroke="#333" stroke-width="0.7"/>
<text transform="translate(69.20,521.10) scale(0.81,1)" font-family="'Liberation Sans', sans-serif" font-size="7.6" fill="#2a2a2a" stroke="#2a2a2a" stroke-width="0.18" text-anchor="end">0.00010</text>
<text transform="translate(69.20,463.97) scale(0.81,1)" font-family="'Liberation Sans', sans-serif" font-size="7.6" fill="#2a2a2a" stroke="#2a2a2a" stroke-width="0.18" text-anchor="end">0.00015</text>
<text transform="translate(69.20,406.84) scale(0.81,1)" font-family="'Liberation Sans', sans-serif" font-size="7.6" fill="#2a2a2a" stroke="#2a2a2a" stroke-width="0.18" text-anchor="end">0.00020</text>
<text transform="translate(69.20,349.71) scale(0.81,1)" font-family="'Liberation Sans', sans-serif" font-size="7.6" fill="#2a2a2a" stroke="#2a2a2a" stroke-width="0.18" text-anchor="end">0.00025</text>
<line x1="76.40" y1="568.20" x2="76.40" y2="566.70" stroke="#333" stroke-width="0.7"/>
<line x1="82.40" y1="568.20" x2="82.40" y2="566.70" stroke="#333" stroke-width="0.7"/>
<line x1="88.40" y1="568.20" x2="88.40" y2="566.70" stroke="#333" stroke-width="0.7"/>
<line x1="94.40" y1="568.20" x2="94.40" y2="565.20" stroke="#333" stroke-width="0.7"/>
<line x1="100.40" y1="568.20" x2="100.40" y2="566.70" stroke="#333" stroke-width="0.7"/>
<line x1="106.40" y1="568.20" x2="106.40" y2="566.70" stroke="#333" stroke-width="0.7"/>
<line x1="112.40" y1="568.20" x2="112.40" y2="566.70" stroke="#333" stroke-width="0.7"/>
<line x1="118.40" y1="568.20" x2="118.40" y2="566.70" stroke="#333" stroke-width="0.7"/>
<line x1="124.40" y1="568.20" x2="124.40" y2="565.20" stroke="#333" stroke-width="0.7"/>
<line x1="130.40" y1="568.20" x2="130.40" y2="566.70" stroke="#333" stroke-width="0.7"/>
<line x1="136.40" y1="568.20" x2="136.40" y2="566.70" stroke="#333" stroke-width="0.7"/>
<line x1="142.40" y1="568.20" x2="142.40" y2="566.70" stroke="#333" stroke-width="0.7"/>
<line x1="148.40" y1="568.20" x2="148.40" y2="566.70" stroke="#333" stroke-width="0.7"/>
<line x1="154.40" y1="568.20" x2="154.40" y2="565.20" stroke="#333" stroke-width="0.7"/>
<line x1="160.40" y1="568.20" x2="160.40" y2="566.70" stroke="#333" stroke-width="0.7"/>
<line x1="166.40" y1="568.20" x2="166.40" y2="566.70" stroke="#333" stroke-width="0.7"/>
<line x1="172.40" y1="568.20" x2="172.40" y2="566.70" stroke="#333" stroke-width="0.7"/>
<line x1="178.40" y1="568.20" x2="178.40" y2="566.70" stroke="#333" stroke-width="0.7"/>
<line x1="184.40" y1="568.20" x2="184.40" y2="565.20" stroke="#333" stroke-width="0.7"/>
<line x1="190.40" y1="568.20" x2="190.40" y2="566.70" stroke="#333" stroke-width="0.7"/>
<line x1="196.40" y1="568.20" x2="196.40" y2="566.70" stroke="#333" stroke-width="0.7"/>
<line x1="202.40" y1="568.20" x2="202.40" y2="566.70" stroke="#333" stroke-width="0.7"/>
<line x1="208.40" y1="568.20" x2="208.40" y2="566.70" stroke="#333" stroke-width="0.7"/>
<line x1="214.40" y1="568.20" x2="214.40" y2="565.20" stroke="#333" stroke-width="0.7"/>
<line x1="220.40" y1="568.20" x2="220.40" y2="566.70" stroke="#333" stroke-width="0.7"/>
<line x1="226.40" y1="568.20" x2="226.40" y2="566.70" stroke="#333" stroke-width="0.7"/>
<line x1="232.40" y1="568.20" x2="232.40" y2="566.70" stroke="#333" stroke-width="0.7"/>
<line x1="238.40" y1="568.20" x2="238.40" y2="566.70" stroke="#333" stroke-width="0.7"/>
<line x1="244.40" y1="568.20" x2="244.40" y2="565.20" stroke="#333" stroke-width="0.7"/>
<line x1="250.40" y1="568.20" x2="250.40" y2="566.70" stroke="#333" stroke-width="0.7"/>
<line x1="256.40" y1="568.20" x2="256.40" y2="566.70" stroke="#333" stroke-width="0.7"/>
<line x1="262.40" y1="568.20" x2="262.40" y2="566.70" stroke="#333" stroke-width="0.7"/>
<line x1="268.40" y1="568.20" x2="268.40" y2="566.70" stroke="#333" stroke-width="0.7"/>
<line x1="274.40" y1="568.20" x2="274.40" y2="565.20" stroke="#333" stroke-width="0.7"/>
<line x1="280.40" y1="568.20" x2="280.40" y2="566.70" stroke="#333" stroke-width="0.7"/>
<line x1="286.40" y1="568.20" x2="286.40" y2="566.70" stroke="#333" stroke-width="0.7"/>
<line x1="292.40" y1="568.20" x2="292.40" y2="566.70" stroke="#333" stroke-width="0.7"/>
<line x1="298.40" y1="568.20" x2="298.40" y2="566.70" stroke="#333" stroke-width="0.7"/>
<line x1="304.40" y1="568.20" x2="304.40" y2="565.20" stroke="#333" stroke-width="0.7"/>
<text transform="translate(94.40,577.40) scale(0.766,1)" font-family="'Liberation Sans', sans-serif" font-size="7.6" fill="#2a2a2a" stroke="#2a2a2a" stroke-width="0.18" text-anchor="middle">500</text>
<text transform="translate(124.40,577.40) scale(0.766,1)" font-family="'Liberation Sans', sans-serif" font-size="7.6" fill="#2a2a2a" stroke="#2a2a2a" stroke-width="0.18" text-anchor="middle">1000</text>
<text transform="translate(154.40,577.40) scale(0.766,1)" font-family="'Liberation Sans', sans-serif" font-size="7.6" fill="#2a2a2a" stroke="#2a2a2a" stroke-width="0.18" text-anchor="middle">1500</text>
<text transform="translate(184.40,577.40) scale(0.766,1)" font-family="'Liberation Sans', sans-serif" font-size="7.6" fill="#2a2a2a" stroke="#2a2a2a" stroke-width="0.18" text-anchor="middle">2000</text>
<text transform="translate(214.40,577.40) scale(0.766,1)" font-family="'Liberation Sans', sans-serif" font-size="7.6" fill="#2a2a2a" stroke="#2a2a2a" stroke-width="0.18" text-anchor="middle">2500</text>
<text transform="translate(244.40,577.40) scale(0.766,1)" font-family="'Liberation Sans', sans-serif" font-size="7.6" fill="#2a2a2a" stroke="#2a2a2a" stroke-width="0.18" text-anchor="middle">3000</text>
<text transform="translate(274.40,577.40) scale(0.766,1)" font-family="'Liberation Sans', sans-serif" font-size="7.6" fill="#2a2a2a" stroke="#2a2a2a" stroke-width="0.18" text-anchor="middle">3500</text>
<text transform="translate(304.40,577.40) scale(0.766,1)" font-family="'Liberation Sans', sans-serif" font-size="7.6" fill="#2a2a2a" stroke="#2a2a2a" stroke-width="0.18" text-anchor="middle">4000</text>
<linearGradient id="g2" gradientUnits="userSpaceOnUse" x1="0" y1="333.00" x2="0" y2="563.00"><stop offset="0.0000" stop-color="#ff1f1f"/><stop offset="0.1667" stop-color="#ff1fff"/><stop offset="0.3333" stop-color="#1f1fff"/><stop offset="0.5000" stop-color="#1fffff"/><stop offset="0.6667" stop-color="#1fff1f"/><stop offset="0.8333" stop-color="#ffff1f"/><stop offset="1.0000" stop-color="#ff1f1f"/></linearGradient>
<path d="M76.00,563.00 L76.15,556.85 L76.31,549.00 L76.46,539.64 L76.62,528.96 L76.77,517.15 L76.93,504.42 L77.08,490.95 L77.24,476.94 L77.39,462.59 L77.55,448.09 L77.70,433.62 L77.85,419.40 L78.01,405.61 L78.16,392.44 L78.32,380.10 L78.47,368.77 L78.63,358.65 L78.78,349.93 L78.94,342.82 L79.09,337.49 L79.25,334.16 L79.40,333.00 L79.56,333.91 L79.71,336.55 L79.87,340.74 L80.03,346.32 L80.18,353.12 L80.34,361.00 L80.50,369.77 L80.65,379.28 L80.81,389.36 L80.97,399.85 L81.12,410.59 L81.28,421.41 L81.43,432.15 L81.59,442.64 L81.75,452.72 L81.90,462.23 L82.06,471.00 L82.22,478.88 L82.37,485.68 L82.53,491.26 L82.69,495.45 L82.84,498.09 L83.00,499.00 L83.15,498.48 L83.31,496.97 L83.46,494.59 L83.62,491.42 L83.77,487.56 L83.93,483.12 L84.08,478.18 L84.24,472.85 L84.39,467.23 L84.55,461.42 L84.70,455.50 L84.85,449.58 L85.01,443.77 L85.16,438.15 L85.32,432.82 L85.47,427.88 L85.63,423.44 L85.78,419.58 L85.94,416.41 L86.09,414.03 L86.25,412.52 L86.40,412.00 L86.55,412.37 L86.70,413.44 L86.86,415.12 L87.01,417.36 L87.16,420.07 L87.31,423.18 L87.47,426.62 L87.62,430.32 L87.77,434.20 L87.92,438.19 L88.08,442.21 L88.23,446.20 L88.38,450.08 L88.53,453.78 L88.69,457.22 L88.84,460.33 L88.99,463.04 L89.14,465.28 L89.30,466.96 L89.45,468.03 L89.60,468.40 L89.75,468.21 L89.91,467.65 L90.06,466.76 L90.22,465.58 L90.37,464.14 L90.53,462.48 L90.68,460.65 L90.84,458.66 L90.99,456.57 L91.15,454.40 L91.30,452.20 L91.45,450.00 L91.61,447.83 L91.76,445.74 L91.92,443.75 L92.07,441.92 L92.23,440.26 L92.38,438.82 L92.54,437.64 L92.69,436.75 L92.85,436.19 L93.00,436.00 L93.15,436.13 L93.30,436.51 L93.46,437.11 L93.61,437.90 L93.76,438.86 L93.91,439.97 L94.07,441.19 L94.22,442.50 L94.37,443.87 L94.52,445.29 L94.68,446.71 L94.83,448.13 L94.98,449.50 L95.13,450.81 L95.29,452.03 L95.44,453.14 L95.59,454.10 L95.74,454.89 L95.90,455.49 L96.05,455.87 L96.20,456.00 L96.35,455.93 L96.51,455.73 L96.66,455.41 L96.82,454.99 L96.97,454.47 L97.13,453.88 L97.28,453.22 L97.44,452.51 L97.59,451.76 L97.75,450.99 L97.90,450.20 L98.05,449.41 L98.21,448.64 L98.36,447.89 L98.52,447.18 L98.67,446.52 L98.83,445.93 L98.98,445.41 L99.14,444.99 L99.29,444.67 L99.45,444.47 L99.60,444.40 L99.75,444.45 L99.90,444.58 L100.06,444.79 L100.21,445.07 L100.36,445.40 L100.51,445.79 L100.67,446.21 L100.82,446.67 L100.97,447.16 L101.12,447.65 L101.28,448.15 L101.43,448.64 L101.58,449.13 L101.73,449.59 L101.89,450.01 L102.04,450.40 L102.19,450.73 L102.34,451.01 L102.50,451.22 L102.65,451.35 L102.80,451.40 L102.95,451.37 L103.10,451.29 L103.26,451.16 L103.41,450.98 L103.56,450.77 L103.71,450.53 L103.87,450.26 L104.02,449.97 L104.17,449.67 L104.32,449.36 L104.48,449.04 L104.63,448.73 L104.78,448.43 L104.93,448.14 L105.09,447.87 L105.24,447.63 L105.39,447.42 L105.54,447.24 L105.70,447.11 L105.85,447.03 L106.00,447.00 L106.15,447.01 L106.31,447.06 L106.46,447.12 L106.62,447.21 L106.77,447.32 L106.93,447.44 L107.08,447.57 L107.24,447.72 L107.39,447.88 L107.55,448.04 L107.70,448.20 L107.85,448.36 L108.01,448.52 L108.16,448.68 L108.32,448.83 L108.47,448.96 L108.63,449.08 L108.78,449.19 L108.94,449.28 L109.09,449.34 L109.25,449.39 L109.40,449.40 L109.55,449.39 L109.71,449.37 L109.86,449.34 L110.02,449.29 L110.17,449.23 L110.33,449.17 L110.48,449.09 L110.64,449.02 L110.79,448.93 L110.95,448.85 L111.10,448.76 L111.25,448.67 L111.41,448.59 L111.56,448.50 L111.72,448.43 L111.87,448.35 L112.03,448.29 L112.18,448.23 L112.34,448.18 L112.49,448.15 L112.65,448.13 L112.80,448.12 L112.95,448.12 L113.11,448.14 L113.26,448.16 L113.42,448.19 L113.57,448.22 L113.73,448.26 L113.88,448.30 L114.04,448.35 L114.19,448.40 L114.35,448.45 L114.50,448.50 L114.65,448.56 L114.81,448.61 L114.96,448.66 L115.12,448.70 L115.27,448.75 L115.43,448.79 L115.58,448.82 L115.74,448.85 L115.89,448.87 L116.05,448.88 L116.20,448.89 L116.35,448.89 L116.51,448.88 L116.66,448.86 L116.82,448.85 L116.97,448.83 L117.13,448.80 L117.28,448.78 L117.44,448.75 L117.59,448.72 L117.75,448.69 L117.90,448.66 L118.05,448.63 L118.21,448.60 L118.36,448.57 L118.52,448.54 L118.67,448.51 L118.83,448.49 L118.98,448.47 L119.14,448.45 L119.29,448.44 L119.45,448.43 L119.60,448.43 L119.75,448.43 L119.91,448.43 L120.06,448.44 L120.22,448.44 L120.37,448.45 L120.53,448.46 L120.68,448.47 L120.84,448.48 L120.99,448.49 L121.15,448.50 L121.30,448.51 L121.45,448.53 L121.61,448.54 L121.76,448.55 L121.92,448.56 L122.07,448.57 L122.23,448.58 L122.38,448.58 L122.54,448.59 L122.69,448.60 L122.85,448.60 L123.00,448.60 L304.40,448.60" fill="none" stroke="url(#g2)" stroke-width="1.8" stroke-linejoin="round" stroke-linecap="round"/>
<text transform="translate(33.8,459.30) rotate(-90)" x="0" y="0" font-family="'Liberation Serif', serif" font-weight="bold" font-size="13.4" text-anchor="middle" textLength="180.6" lengthAdjust="spacingAndGlyphs" fill="#000">Infectious host humans in Thais</text>
<text x="188.80" y="602" font-family="'Liberation Serif', serif" font-weight="bold" font-size="13.4" text-anchor="middle" textLength="63.6" lengthAdjust="spacingAndGlyphs" fill="#000">Time (Day)</text>
<text transform="translate(190.4,632.0) scale(0.95,1)" font-family="'Liberation Sans', sans-serif" font-size="14" fill="#383838" text-anchor="middle">(c)</text>
<line x1="415.40" y1="326.60" x2="415.40" y2="572.20" stroke="#7a7a7a" stroke-width="1.3"/>
<line x1="414.80" y1="572.20" x2="664.00" y2="572.20" stroke="#7a7a7a" stroke-width="1.4"/>
<line x1="663.50" y1="325.90" x2="663.50" y2="572.20" stroke="#777" stroke-width="1.2"/>
<line x1="415.90" y1="567.40" x2="419.30" y2="567.40" stroke="#333" stroke-width="0.7"/>
<line x1="415.90" y1="552.59" x2="418.00" y2="552.59" stroke="#333" stroke-width="0.7"/>
<line x1="415.90" y1="537.77" x2="418.00" y2="537.77" stroke="#333" stroke-width="0.7"/>
<line x1="415.90" y1="522.96" x2="418.00" y2="522.96" stroke="#333" stroke-width="0.7"/>
<line x1="415.90" y1="508.15" x2="419.30" y2="508.15" stroke="#333" stroke-width="0.7"/>
<line x1="415.90" y1="493.34" x2="418.00" y2="493.34" stroke="#333" stroke-width="0.7"/>
<line x1="415.90" y1="478.52" x2="418.00" y2="478.52" stroke="#333" stroke-width="0.7"/>
<line x1="415.90" y1="463.71" x2="418.00" y2="463.71" stroke="#333" stroke-width="0.7"/>
<line x1="415.90" y1="448.90" x2="419.30" y2="448.90" stroke="#333" stroke-width="0.7"/>
<line x1="415.90" y1="434.09" x2="418.00" y2="434.09" stroke="#333" stroke-width="0.7"/>
<line x1="415.90" y1="419.27" x2="418.00" y2="419.27" stroke="#333" stroke-width="0.7"/>
<line x1="415.90" y1="404.46" x2="418.00" y2="404.46" stroke="#333" stroke-width="0.7"/>
<line x1="415.90" y1="389.65" x2="419.30" y2="389.65" stroke="#333" stroke-width="0.7"/>
<line x1="415.90" y1="374.84" x2="418.00" y2="374.84" stroke="#333" stroke-width="0.7"/>
<line x1="415.90" y1="360.02" x2="418.00" y2="360.02" stroke="#333" stroke-width="0.7"/>
<line x1="415.90" y1="345.21" x2="418.00" y2="345.21" stroke="#333" stroke-width="0.7"/>
<line x1="415.90" y1="330.40" x2="419.30" y2="330.40" stroke="#333" stroke-width="0.7"/>
<text transform="translate(412.80,570.10) scale(0.867,1)" font-family="'Liberation Sans', sans-serif" font-size="7.6" fill="#2a2a2a" stroke="#2a2a2a" stroke-width="0.18" text-anchor="end">0</text>
<text transform="translate(412.80,510.85) scale(0.867,1)" font-family="'Liberation Sans', sans-serif" font-size="7.6" fill="#2a2a2a" stroke="#2a2a2a" stroke-width="0.18" text-anchor="end">0.00002</text>
<text transform="translate(412.80,451.60) scale(0.867,1)" font-family="'Liberation Sans', sans-serif" font-size="7.6" fill="#2a2a2a" stroke="#2a2a2a" stroke-width="0.18" text-anchor="end">0.00004</text>
<text transform="translate(412.80,392.35) scale(0.867,1)" font-family="'Liberation Sans', sans-serif" font-size="7.6" fill="#2a2a2a" stroke="#2a2a2a" stroke-width="0.18" text-anchor="end">0.00006</text>
<text transform="translate(412.80,333.10) scale(0.867,1)" font-family="'Liberation Sans', sans-serif" font-size="7.6" fill="#2a2a2a" stroke="#2a2a2a" stroke-width="0.18" text-anchor="end">0.00008</text>
<line x1="420.00" y1="571.60" x2="420.00" y2="568.20" stroke="#333" stroke-width="0.7"/>
<line x1="427.95" y1="571.60" x2="427.95" y2="569.50" stroke="#333" stroke-width="0.7"/>
<line x1="435.89" y1="571.60" x2="435.89" y2="569.50" stroke="#333" stroke-width="0.7"/>
<line x1="443.84" y1="571.60" x2="443.84" y2="569.50" stroke="#333" stroke-width="0.7"/>
<line x1="451.79" y1="571.60" x2="451.79" y2="569.50" stroke="#333" stroke-width="0.7"/>
<line x1="459.74" y1="571.60" x2="459.74" y2="568.20" stroke="#333" stroke-width="0.7"/>
<line x1="467.68" y1="571.60" x2="467.68" y2="569.50" stroke="#333" stroke-width="0.7"/>
<line x1="475.63" y1="571.60" x2="475.63" y2="569.50" stroke="#333" stroke-width="0.7"/>
<line x1="483.58" y1="571.60" x2="483.58" y2="569.50" stroke="#333" stroke-width="0.7"/>
<line x1="491.52" y1="571.60" x2="491.52" y2="569.50" stroke="#333" stroke-width="0.7"/>
<line x1="499.47" y1="571.60" x2="499.47" y2="568.20" stroke="#333" stroke-width="0.7"/>
<line x1="507.42" y1="571.60" x2="507.42" y2="569.50" stroke="#333" stroke-width="0.7"/>
<line x1="515.36" y1="571.60" x2="515.36" y2="569.50" stroke="#333" stroke-width="0.7"/>
<line x1="523.31" y1="571.60" x2="523.31" y2="569.50" stroke="#333" stroke-width="0.7"/>
<line x1="531.26" y1="571.60" x2="531.26" y2="569.50" stroke="#333" stroke-width="0.7"/>
<line x1="539.21" y1="571.60" x2="539.21" y2="568.20" stroke="#333" stroke-width="0.7"/>
<line x1="547.15" y1="571.60" x2="547.15" y2="569.50" stroke="#333" stroke-width="0.7"/>
<line x1="555.10" y1="571.60" x2="555.10" y2="569.50" stroke="#333" stroke-width="0.7"/>
<line x1="563.05" y1="571.60" x2="563.05" y2="569.50" stroke="#333" stroke-width="0.7"/>
<line x1="570.99" y1="571.60" x2="570.99" y2="569.50" stroke="#333" stroke-width="0.7"/>
<line x1="578.94" y1="571.60" x2="578.94" y2="568.20" stroke="#333" stroke-width="0.7"/>
<line x1="586.89" y1="571.60" x2="586.89" y2="569.50" stroke="#333" stroke-width="0.7"/>
<line x1="594.83" y1="571.60" x2="594.83" y2="569.50" stroke="#333" stroke-width="0.7"/>
<line x1="602.78" y1="571.60" x2="602.78" y2="569.50" stroke="#333" stroke-width="0.7"/>
<line x1="610.73" y1="571.60" x2="610.73" y2="569.50" stroke="#333" stroke-width="0.7"/>
<line x1="618.67" y1="571.60" x2="618.67" y2="568.20" stroke="#333" stroke-width="0.7"/>
<line x1="626.62" y1="571.60" x2="626.62" y2="569.50" stroke="#333" stroke-width="0.7"/>
<line x1="634.57" y1="571.60" x2="634.57" y2="569.50" stroke="#333" stroke-width="0.7"/>
<line x1="642.52" y1="571.60" x2="642.52" y2="569.50" stroke="#333" stroke-width="0.7"/>
<line x1="650.46" y1="571.60" x2="650.46" y2="569.50" stroke="#333" stroke-width="0.7"/>
<line x1="658.41" y1="571.60" x2="658.41" y2="568.20" stroke="#333" stroke-width="0.7"/>
<text transform="translate(420.00,581.30) scale(0.8,1)" font-family="'Liberation Sans', sans-serif" font-size="7.6" fill="#2a2a2a" stroke="#2a2a2a" stroke-width="0.18" text-anchor="middle">0</text>
<text transform="translate(459.74,581.30) scale(0.8,1)" font-family="'Liberation Sans', sans-serif" font-size="7.6" fill="#2a2a2a" stroke="#2a2a2a" stroke-width="0.18" text-anchor="middle">500</text>
<text transform="translate(499.47,581.30) scale(0.8,1)" font-family="'Liberation Sans', sans-serif" font-size="7.6" fill="#2a2a2a" stroke="#2a2a2a" stroke-width="0.18" text-anchor="middle">1000</text>
<text transform="translate(539.21,581.30) scale(0.8,1)" font-family="'Liberation Sans', sans-serif" font-size="7.6" fill="#2a2a2a" stroke="#2a2a2a" stroke-width="0.18" text-anchor="middle">1500</text>
<text transform="translate(578.94,581.30) scale(0.8,1)" font-family="'Liberation Sans', sans-serif" font-size="7.6" fill="#2a2a2a" stroke="#2a2a2a" stroke-width="0.18" text-anchor="middle">2000</text>
<text transform="translate(618.67,581.30) scale(0.8,1)" font-family="'Liberation Sans', sans-serif" font-size="7.6" fill="#2a2a2a" stroke="#2a2a2a" stroke-width="0.18" text-anchor="middle">2500</text>
<text transform="translate(658.41,581.30) scale(0.8,1)" font-family="'Liberation Sans', sans-serif" font-size="7.6" fill="#2a2a2a" stroke="#2a2a2a" stroke-width="0.18" text-anchor="middle">3000</text>
<linearGradient id="g3" gradientUnits="userSpaceOnUse" x1="0" y1="331.00" x2="0" y2="566.00"><stop offset="0.0000" stop-color="#ff1f1f"/><stop offset="0.1667" stop-color="#ff1fff"/><stop offset="0.3333" stop-color="#1f1fff"/><stop offset="0.5000" stop-color="#1fffff"/><stop offset="0.6667" stop-color="#1fff1f"/><stop offset="0.8333" stop-color="#ffff1f"/><stop offset="1.0000" stop-color="#ff1f1f"/></linearGradient>
<path d="M422.00,530.00 L422.15,530.70 L422.30,531.57 L422.46,532.57 L422.61,533.71 L422.76,534.97 L422.91,536.33 L423.06,537.78 L423.21,539.31 L423.37,540.91 L423.52,542.55 L423.67,544.24 L423.82,545.95 L423.97,547.67 L424.12,549.39 L424.28,551.10 L424.43,552.78 L424.58,554.42 L424.73,556.00 L424.88,557.51 L425.03,558.95 L425.19,560.28 L425.34,561.52 L425.49,562.63 L425.64,563.60 L425.79,564.43 L425.94,565.10 L426.10,565.59 L426.25,565.90 L426.40,566.00 L426.56,565.96 L426.71,565.85 L426.87,565.66 L427.02,565.39 L427.18,565.06 L427.34,564.65 L427.49,564.18 L427.65,563.63 L427.81,563.02 L427.96,562.35 L428.12,561.61 L428.27,560.80 L428.43,559.94 L428.59,559.02 L428.74,558.04 L428.90,557.00 L429.05,554.07 L429.20,547.63 L429.35,538.13 L429.50,526.00 L429.65,511.70 L429.80,495.68 L429.95,478.37 L430.10,460.23 L430.25,441.70 L430.40,423.22 L430.55,405.25 L430.70,388.23 L430.85,372.60 L431.00,358.81 L431.15,347.31 L431.30,338.55 L431.45,332.96 L431.60,331.00 L431.75,331.73 L431.90,333.86 L432.06,337.28 L432.21,341.88 L432.36,347.58 L432.51,354.25 L432.66,361.80 L432.81,370.13 L432.97,379.12 L433.12,388.69 L433.27,398.72 L433.42,409.11 L433.57,419.77 L433.72,430.57 L433.88,441.43 L434.03,452.23 L434.18,462.89 L434.33,473.28 L434.48,483.31 L434.63,492.88 L434.79,501.87 L434.94,510.20 L435.09,517.75 L435.24,524.42 L435.39,530.12 L435.54,534.72 L435.70,538.14 L435.85,540.27 L436.00,541.00 L436.15,540.70 L436.30,539.82 L436.46,538.41 L436.61,536.51 L436.76,534.16 L436.91,531.41 L437.06,528.30 L437.21,524.87 L437.37,521.15 L437.52,517.21 L437.67,513.07 L437.82,508.79 L437.97,504.39 L438.12,499.94 L438.28,495.46 L438.43,491.01 L438.58,486.61 L438.73,482.33 L438.88,478.19 L439.03,474.25 L439.19,470.53 L439.34,467.10 L439.49,463.99 L439.64,461.24 L439.79,458.89 L439.94,456.99 L440.10,455.58 L440.25,454.70 L440.40,454.40 L440.55,454.63 L440.70,455.30 L440.85,456.37 L441.00,457.81 L441.15,459.59 L441.30,461.67 L441.45,464.02 L441.60,466.61 L441.75,469.40 L441.90,472.36 L442.05,475.45 L442.20,478.64 L442.35,481.91 L442.50,485.20 L442.65,488.49 L442.80,491.76 L442.95,494.95 L443.10,498.04 L443.25,501.00 L443.40,503.79 L443.55,506.38 L443.70,508.73 L443.85,510.81 L444.00,512.59 L444.15,514.03 L444.30,515.10 L444.45,515.77 L444.60,516.00 L444.75,515.89 L444.91,515.59 L445.06,515.09 L445.21,514.43 L445.37,513.60 L445.52,512.63 L445.67,511.53 L445.83,510.32 L445.98,509.00 L446.13,507.60 L446.29,506.13 L446.44,504.60 L446.59,503.02 L446.75,501.42 L446.90,499.80 L447.05,498.18 L447.21,496.58 L447.36,495.00 L447.51,493.47 L447.67,492.00 L447.82,490.60 L447.97,489.28 L448.13,488.07 L448.28,486.97 L448.43,486.00 L448.59,485.17 L448.74,484.51 L448.89,484.01 L449.05,483.71 L449.20,483.60 L449.35,483.67 L449.50,483.89 L449.66,484.24 L449.81,484.71 L449.96,485.29 L450.11,485.97 L450.26,486.74 L450.41,487.59 L450.57,488.50 L450.72,489.48 L450.87,490.50 L451.02,491.56 L451.17,492.65 L451.32,493.75 L451.48,494.85 L451.63,495.95 L451.78,497.04 L451.93,498.10 L452.08,499.12 L452.23,500.10 L452.39,501.01 L452.54,501.86 L452.69,502.63 L452.84,503.31 L452.99,503.89 L453.14,504.36 L453.30,504.71 L453.45,504.93 L453.60,505.00 L453.75,504.96 L453.90,504.83 L454.06,504.63 L454.21,504.36 L454.36,504.02 L454.51,503.63 L454.66,503.18 L454.81,502.69 L454.97,502.16 L455.12,501.59 L455.27,501.00 L455.42,500.39 L455.57,499.76 L455.72,499.12 L455.88,498.48 L456.03,497.84 L456.18,497.21 L456.33,496.60 L456.48,496.01 L456.63,495.44 L456.79,494.91 L456.94,494.42 L457.09,493.97 L457.24,493.58 L457.39,493.24 L457.54,492.97 L457.70,492.77 L457.85,492.64 L458.00,492.60 L458.15,492.63 L458.30,492.71 L458.46,492.84 L458.61,493.01 L458.76,493.23 L458.91,493.49 L459.06,493.77 L459.21,494.09 L459.37,494.43 L459.52,494.80 L459.67,495.18 L459.82,495.58 L459.97,495.98 L460.12,496.39 L460.28,496.81 L460.43,497.22 L460.58,497.62 L460.73,498.02 L460.88,498.40 L461.03,498.77 L461.19,499.11 L461.34,499.43 L461.49,499.71 L461.64,499.97 L461.79,500.19 L461.94,500.36 L462.10,500.49 L462.25,500.57 L462.40,500.60 L462.55,500.58 L462.71,500.54 L462.86,500.46 L463.01,500.36 L463.17,500.23 L463.32,500.08 L463.47,499.91 L463.63,499.72 L463.78,499.52 L463.93,499.30 L464.09,499.08 L464.24,498.84 L464.39,498.60 L464.55,498.35 L464.70,498.10 L464.85,497.85 L465.01,497.60 L465.16,497.36 L465.31,497.12 L465.47,496.90 L465.62,496.68 L465.77,496.48 L465.93,496.29 L466.08,496.12 L466.23,495.97 L466.39,495.84 L466.54,495.74 L466.69,495.66 L466.85,495.62 L467.00,495.60 L467.15,495.61 L467.30,495.65 L467.46,495.70 L467.61,495.78 L467.76,495.87 L467.91,495.98 L468.06,496.10 L468.21,496.23 L468.37,496.38 L468.52,496.53 L468.67,496.70 L468.82,496.86 L468.97,497.04 L469.12,497.21 L469.28,497.39 L469.43,497.56 L469.58,497.74 L469.73,497.90 L469.88,498.07 L470.03,498.22 L470.19,498.37 L470.34,498.50 L470.49,498.62 L470.64,498.73 L470.79,498.82 L470.94,498.90 L471.10,498.95 L471.25,498.99 L471.40,499.00 L471.55,498.99 L471.71,498.97 L471.86,498.94 L472.01,498.90 L472.17,498.85 L472.32,498.79 L472.47,498.72 L472.63,498.65 L472.78,498.57 L472.93,498.48 L473.09,498.39 L473.24,498.30 L473.39,498.20 L473.55,498.10 L473.70,498.00 L473.85,497.90 L474.01,497.80 L474.16,497.70 L474.31,497.61 L474.47,497.52 L474.62,497.43 L474.77,497.35 L474.93,497.28 L475.08,497.21 L475.23,497.15 L475.39,497.10 L475.54,497.06 L475.69,497.03 L475.85,497.01 L476.00,497.00 L476.15,497.01 L476.31,497.02 L476.46,497.04 L476.61,497.08 L476.77,497.12 L476.92,497.17 L477.07,497.22 L477.23,497.28 L477.38,497.35 L477.53,497.41 L477.69,497.49 L477.84,497.56 L477.99,497.64 L478.15,497.72 L478.30,497.80 L478.45,497.88 L478.61,497.96 L478.76,498.04 L478.91,498.11 L479.07,498.19 L479.22,498.25 L479.37,498.32 L479.53,498.38 L479.68,498.43 L479.83,498.48 L479.99,498.52 L480.14,498.56 L480.29,498.58 L480.45,498.59 L480.60,498.60 L480.75,498.60 L480.91,498.59 L481.06,498.57 L481.21,498.55 L481.37,498.53 L481.52,498.50 L481.67,498.47 L481.83,498.43 L481.98,498.39 L482.13,498.35 L482.29,498.31 L482.44,498.26 L482.59,498.22 L482.75,498.17 L482.90,498.12 L483.05,498.07 L483.21,498.02 L483.36,497.98 L483.51,497.93 L483.67,497.89 L483.82,497.85 L483.97,497.81 L484.13,497.77 L484.28,497.74 L484.43,497.71 L484.59,497.69 L484.74,497.67 L484.89,497.65 L485.05,497.64 L485.20,497.64 L485.35,497.64 L485.51,497.64 L485.66,497.65 L485.81,497.66 L485.97,497.67 L486.12,497.68 L486.27,497.69 L486.43,497.70 L486.58,497.72 L486.73,497.73 L486.89,497.75 L487.04,497.77 L487.19,497.78 L487.35,497.80 L487.50,497.82 L487.65,497.84 L487.81,497.86 L487.96,497.87 L488.11,497.89 L488.27,497.91 L488.42,497.92 L488.57,497.94 L488.73,497.95 L488.88,497.96 L489.03,497.97 L489.19,497.98 L489.34,497.99 L489.49,498.00 L489.65,498.00 L489.80,498.00 L658.40,498.00" fill="none" stroke="url(#g3)" stroke-width="1.8" stroke-linejoin="round" stroke-linecap="round"/>
<text transform="translate(374.9,457.25) rotate(-90)" x="0" y="0" font-family="'Liberation Serif', serif" font-weight="bold" font-size="13.4" text-anchor="middle" textLength="206.1" lengthAdjust="spacingAndGlyphs" fill="#000">Host humans quarantined in Thais</text>
<text x="521.00" y="605" font-family="'Liberation Serif', serif" font-weight="bold" font-size="13.4" text-anchor="middle" textLength="66.0" lengthAdjust="spacingAndGlyphs" fill="#000">Time (Day)</text>
<text transform="translate(520.4,631.9) scale(0.95,1)" font-family="'Liberation Sans', sans-serif" font-size="14" fill="#383838" text-anchor="middle">(d)</text>
<line x1="68.50" y1="647.00" x2="68.50" y2="895.40" stroke="#7a7a7a" stroke-width="1.3"/>
<line x1="67.90" y1="895.40" x2="318.00" y2="895.40" stroke="#7a7a7a" stroke-width="1.4"/>
<line x1="317.50" y1="647.00" x2="317.50" y2="895.40" stroke="#666" stroke-width="1.1"/>
<line x1="69.00" y1="890.58" x2="70.50" y2="890.58" stroke="#333" stroke-width="0.7"/>
<line x1="69.00" y1="879.05" x2="70.50" y2="879.05" stroke="#333" stroke-width="0.7"/>
<line x1="69.00" y1="867.53" x2="70.50" y2="867.53" stroke="#333" stroke-width="0.7"/>
<line x1="69.00" y1="856.00" x2="71.60" y2="856.00" stroke="#333" stroke-width="0.7"/>
<line x1="69.00" y1="844.47" x2="70.50" y2="844.47" stroke="#333" stroke-width="0.7"/>
<line x1="69.00" y1="832.95" x2="70.50" y2="832.95" stroke="#333" stroke-width="0.7"/>
<line x1="69.00" y1="821.42" x2="70.50" y2="821.42" stroke="#333" stroke-width="0.7"/>
<line x1="69.00" y1="809.90" x2="71.60" y2="809.90" stroke="#333" stroke-width="0.7"/>
<line x1="69.00" y1="798.37" x2="70.50" y2="798.37" stroke="#333" stroke-width="0.7"/>
<line x1="69.00" y1="786.85" x2="70.50" y2="786.85" stroke="#333" stroke-width="0.7"/>
<line x1="69.00" y1="775.32" x2="70.50" y2="775.32" stroke="#333" stroke-width="0.7"/>
<line x1="69.00" y1="763.80" x2="71.60" y2="763.80" stroke="#333" stroke-width="0.7"/>
<line x1="69.00" y1="752.27" x2="70.50" y2="752.27" stroke="#333" stroke-width="0.7"/>
<line x1="69.00" y1="740.75" x2="70.50" y2="740.75" stroke="#333" stroke-width="0.7"/>
<line x1="69.00" y1="729.22" x2="70.50" y2="729.22" stroke="#333" stroke-width="0.7"/>
<line x1="69.00" y1="717.70" x2="71.60" y2="717.70" stroke="#333" stroke-width="0.7"/>
<line x1="69.00" y1="706.17" x2="70.50" y2="706.17" stroke="#333" stroke-width="0.7"/>
<line x1="69.00" y1="694.65" x2="70.50" y2="694.65" stroke="#333" stroke-width="0.7"/>
<line x1="69.00" y1="683.13" x2="70.50" y2="683.13" stroke="#333" stroke-width="0.7"/>
<line x1="69.00" y1="671.60" x2="71.60" y2="671.60" stroke="#333" stroke-width="0.7"/>
<line x1="69.00" y1="660.08" x2="70.50" y2="660.08" stroke="#333" stroke-width="0.7"/>
<line x1="69.00" y1="648.55" x2="70.50" y2="648.55" stroke="#333" stroke-width="0.7"/>
<text transform="translate(65.30,858.70) scale(0.857,1)" font-family="'Liberation Sans', sans-serif" font-size="7.6" fill="#2a2a2a" stroke="#2a2a2a" stroke-width="0.18" text-anchor="end">0.0001256</text>
<text transform="translate(65.30,812.60) scale(0.857,1)" font-family="'Liberation Sans', sans-serif" font-size="7.6" fill="#2a2a2a" stroke="#2a2a2a" stroke-width="0.18" text-anchor="end">0.0001258</text>
<text transform="translate(65.30,766.50) scale(0.857,1)" font-family="'Liberation Sans', sans-serif" font-size="7.6" fill="#2a2a2a" stroke="#2a2a2a" stroke-width="0.18" text-anchor="end">0.0001260</text>
<text transform="translate(65.30,720.40) scale(0.857,1)" font-family="'Liberation Sans', sans-serif" font-size="7.6" fill="#2a2a2a" stroke="#2a2a2a" stroke-width="0.18" text-anchor="end">0.0001262</text>
<text transform="translate(65.30,674.30) scale(0.857,1)" font-family="'Liberation Sans', sans-serif" font-size="7.6" fill="#2a2a2a" stroke="#2a2a2a" stroke-width="0.18" text-anchor="end">0.0001264</text>
<line x1="71.60" y1="894.80" x2="71.60" y2="893.30" stroke="#333" stroke-width="0.7"/>
<line x1="78.30" y1="894.80" x2="78.30" y2="893.30" stroke="#333" stroke-width="0.7"/>
<line x1="85.00" y1="894.80" x2="85.00" y2="892.20" stroke="#333" stroke-width="0.7"/>
<line x1="91.70" y1="894.80" x2="91.70" y2="893.30" stroke="#333" stroke-width="0.7"/>
<line x1="98.40" y1="894.80" x2="98.40" y2="893.30" stroke="#333" stroke-width="0.7"/>
<line x1="105.10" y1="894.80" x2="105.10" y2="893.30" stroke="#333" stroke-width="0.7"/>
<line x1="111.80" y1="894.80" x2="111.80" y2="893.30" stroke="#333" stroke-width="0.7"/>
<line x1="118.50" y1="894.80" x2="118.50" y2="892.20" stroke="#333" stroke-width="0.7"/>
<line x1="125.20" y1="894.80" x2="125.20" y2="893.30" stroke="#333" stroke-width="0.7"/>
<line x1="131.90" y1="894.80" x2="131.90" y2="893.30" stroke="#333" stroke-width="0.7"/>
<line x1="138.60" y1="894.80" x2="138.60" y2="893.30" stroke="#333" stroke-width="0.7"/>
<line x1="145.30" y1="894.80" x2="145.30" y2="893.30" stroke="#333" stroke-width="0.7"/>
<line x1="152.00" y1="894.80" x2="152.00" y2="892.20" stroke="#333" stroke-width="0.7"/>
<line x1="158.70" y1="894.80" x2="158.70" y2="893.30" stroke="#333" stroke-width="0.7"/>
<line x1="165.40" y1="894.80" x2="165.40" y2="893.30" stroke="#333" stroke-width="0.7"/>
<line x1="172.10" y1="894.80" x2="172.10" y2="893.30" stroke="#333" stroke-width="0.7"/>
<line x1="178.80" y1="894.80" x2="178.80" y2="893.30" stroke="#333" stroke-width="0.7"/>
<line x1="185.50" y1="894.80" x2="185.50" y2="892.20" stroke="#333" stroke-width="0.7"/>
<line x1="192.20" y1="894.80" x2="192.20" y2="893.30" stroke="#333" stroke-width="0.7"/>
<line x1="198.90" y1="894.80" x2="198.90" y2="893.30" stroke="#333" stroke-width="0.7"/>
<line x1="205.60" y1="894.80" x2="205.60" y2="893.30" stroke="#333" stroke-width="0.7"/>
<line x1="212.30" y1="894.80" x2="212.30" y2="893.30" stroke="#333" stroke-width="0.7"/>
<line x1="219.00" y1="894.80" x2="219.00" y2="892.20" stroke="#333" stroke-width="0.7"/>
<line x1="225.70" y1="894.80" x2="225.70" y2="893.30" stroke="#333" stroke-width="0.7"/>
<line x1="232.40" y1="894.80" x2="232.40" y2="893.30" stroke="#333" stroke-width="0.7"/>
<line x1="239.10" y1="894.80" x2="239.10" y2="893.30" stroke="#333" stroke-width="0.7"/>
<line x1="245.80" y1="894.80" x2="245.80" y2="893.30" stroke="#333" stroke-width="0.7"/>
<line x1="252.50" y1="894.80" x2="252.50" y2="892.20" stroke="#333" stroke-width="0.7"/>
<line x1="259.20" y1="894.80" x2="259.20" y2="893.30" stroke="#333" stroke-width="0.7"/>
<line x1="265.90" y1="894.80" x2="265.90" y2="893.30" stroke="#333" stroke-width="0.7"/>
<line x1="272.60" y1="894.80" x2="272.60" y2="893.30" stroke="#333" stroke-width="0.7"/>
<line x1="279.30" y1="894.80" x2="279.30" y2="893.30" stroke="#333" stroke-width="0.7"/>
<line x1="286.00" y1="894.80" x2="286.00" y2="892.20" stroke="#333" stroke-width="0.7"/>
<line x1="292.70" y1="894.80" x2="292.70" y2="893.30" stroke="#333" stroke-width="0.7"/>
<line x1="299.40" y1="894.80" x2="299.40" y2="893.30" stroke="#333" stroke-width="0.7"/>
<line x1="306.10" y1="894.80" x2="306.10" y2="893.30" stroke="#333" stroke-width="0.7"/>
<line x1="312.80" y1="894.80" x2="312.80" y2="893.30" stroke="#333" stroke-width="0.7"/>
<text transform="translate(85.00,904.50) scale(0.83,1)" font-family="'Liberation Sans', sans-serif" font-size="7.8" fill="#2a2a2a" stroke="#2a2a2a" stroke-width="0.18" text-anchor="middle">500</text>
<text transform="translate(118.50,904.50) scale(0.83,1)" font-family="'Liberation Sans', sans-serif" font-size="7.8" fill="#2a2a2a" stroke="#2a2a2a" stroke-width="0.18" text-anchor="middle">1000</text>
<text transform="translate(152.00,904.50) scale(0.83,1)" font-family="'Liberation Sans', sans-serif" font-size="7.8" fill="#2a2a2a" stroke="#2a2a2a" stroke-width="0.18" text-anchor="middle">1500</text>
<text transform="translate(185.50,904.50) scale(0.83,1)" font-family="'Liberation Sans', sans-serif" font-size="7.8" fill="#2a2a2a" stroke="#2a2a2a" stroke-width="0.18" text-anchor="middle">2000</text>
<text transform="translate(219.00,904.50) scale(0.83,1)" font-family="'Liberation Sans', sans-serif" font-size="7.8" fill="#2a2a2a" stroke="#2a2a2a" stroke-width="0.18" text-anchor="middle">2500</text>
<text transform="translate(252.50,904.50) scale(0.83,1)" font-family="'Liberation Sans', sans-serif" font-size="7.8" fill="#2a2a2a" stroke="#2a2a2a" stroke-width="0.18" text-anchor="middle">3000</text>
<text transform="translate(286.00,904.50) scale(0.83,1)" font-family="'Liberation Sans', sans-serif" font-size="7.8" fill="#2a2a2a" stroke="#2a2a2a" stroke-width="0.18" text-anchor="middle">3500</text>
<linearGradient id="g4" gradientUnits="userSpaceOnUse" x1="0" y1="651.00" x2="0" y2="890.60"><stop offset="0.0000" stop-color="#ff1f1f"/><stop offset="0.1667" stop-color="#ff1fff"/><stop offset="0.3333" stop-color="#1f1fff"/><stop offset="0.5000" stop-color="#1fffff"/><stop offset="0.6667" stop-color="#1fff1f"/><stop offset="0.8333" stop-color="#ffff1f"/><stop offset="1.0000" stop-color="#ff1f1f"/></linearGradient>
<path d="M73.00,651.00 L73.15,657.40 L73.31,665.58 L73.46,675.34 L73.62,686.46 L73.77,698.76 L73.93,712.03 L74.08,726.06 L74.24,740.65 L74.39,755.60 L74.55,770.71 L74.70,785.78 L74.85,800.59 L75.01,814.96 L75.16,828.67 L75.32,841.53 L75.47,853.34 L75.63,863.88 L75.78,872.96 L75.94,880.37 L76.09,885.92 L76.25,889.40 L76.40,890.60 L76.55,889.56 L76.70,886.56 L76.86,881.81 L77.01,875.53 L77.16,867.91 L77.31,859.16 L77.47,849.48 L77.62,839.09 L77.77,828.18 L77.92,816.96 L78.08,805.64 L78.23,794.42 L78.38,783.51 L78.53,773.12 L78.69,763.44 L78.84,754.69 L78.99,747.07 L79.14,740.79 L79.30,736.04 L79.45,733.04 L79.60,732.00 L79.75,732.39 L79.91,733.53 L80.06,735.36 L80.22,737.80 L80.37,740.80 L80.52,744.30 L80.68,748.24 L80.83,752.54 L80.98,757.16 L81.14,762.03 L81.29,767.08 L81.45,772.26 L81.60,777.50 L81.75,782.74 L81.91,787.92 L82.06,792.97 L82.22,797.84 L82.37,802.46 L82.52,806.76 L82.68,810.70 L82.83,814.20 L82.98,817.20 L83.14,819.64 L83.29,821.47 L83.45,822.61 L83.60,823.00 L83.75,822.76 L83.91,822.06 L84.06,820.94 L84.22,819.43 L84.37,817.58 L84.52,815.43 L84.68,813.01 L84.83,810.36 L84.98,807.52 L85.14,804.52 L85.29,801.41 L85.45,798.22 L85.60,795.00 L85.75,791.78 L85.91,788.59 L86.06,785.48 L86.22,782.48 L86.37,779.64 L86.52,776.99 L86.68,774.57 L86.83,772.42 L86.98,770.57 L87.14,769.06 L87.29,767.94 L87.45,767.24 L87.60,767.00 L87.75,767.20 L87.91,767.78 L88.06,768.70 L88.22,769.93 L88.37,771.42 L88.53,773.13 L88.68,775.04 L88.84,777.10 L88.99,779.27 L89.15,781.52 L89.30,783.80 L89.45,786.08 L89.61,788.33 L89.76,790.50 L89.92,792.56 L90.07,794.47 L90.23,796.18 L90.38,797.67 L90.54,798.90 L90.69,799.82 L90.85,800.40 L91.00,800.60 L91.15,800.51 L91.31,800.25 L91.46,799.84 L91.62,799.29 L91.77,798.61 L91.92,797.82 L92.08,796.92 L92.23,795.95 L92.38,794.90 L92.54,793.80 L92.69,792.66 L92.85,791.49 L93.00,790.30 L93.15,789.11 L93.31,787.94 L93.46,786.80 L93.62,785.70 L93.77,784.65 L93.92,783.68 L94.08,782.78 L94.23,781.99 L94.38,781.31 L94.54,780.76 L94.69,780.35 L94.85,780.09 L95.00,780.00 L95.15,780.07 L95.31,780.28 L95.46,780.61 L95.62,781.05 L95.77,781.58 L95.93,782.19 L96.08,782.87 L96.24,783.61 L96.39,784.38 L96.55,785.18 L96.70,786.00 L96.85,786.82 L97.01,787.62 L97.16,788.39 L97.32,789.13 L97.47,789.81 L97.63,790.42 L97.78,790.95 L97.94,791.39 L98.09,791.72 L98.25,791.93 L98.40,792.00 L98.56,791.96 L98.71,791.85 L98.87,791.67 L99.03,791.44 L99.18,791.15 L99.34,790.82 L99.50,790.45 L99.65,790.05 L99.81,789.62 L99.97,789.18 L100.12,788.73 L100.28,788.27 L100.43,787.82 L100.59,787.38 L100.75,786.95 L100.90,786.55 L101.06,786.18 L101.22,785.85 L101.37,785.56 L101.53,785.33 L101.69,785.15 L101.84,785.04 L102.00,785.00 L102.16,785.02 L102.31,785.09 L102.47,785.21 L102.63,785.35 L102.78,785.53 L102.94,785.74 L103.10,785.97 L103.25,786.23 L103.41,786.49 L103.57,786.77 L103.72,787.06 L103.88,787.34 L104.03,787.63 L104.19,787.91 L104.35,788.17 L104.50,788.43 L104.66,788.66 L104.82,788.87 L104.97,789.05 L105.13,789.19 L105.29,789.31 L105.44,789.38 L105.60,789.40 L105.75,789.39 L105.90,789.35 L106.06,789.29 L106.21,789.21 L106.36,789.11 L106.51,788.99 L106.66,788.86 L106.82,788.72 L106.97,788.57 L107.12,788.41 L107.27,788.25 L107.42,788.08 L107.58,787.92 L107.73,787.75 L107.88,787.59 L108.03,787.43 L108.18,787.28 L108.34,787.14 L108.49,787.01 L108.64,786.89 L108.79,786.79 L108.94,786.71 L109.10,786.65 L109.25,786.61 L109.40,786.60 L109.56,786.61 L109.71,786.64 L109.87,786.68 L110.03,786.74 L110.18,786.82 L110.34,786.90 L110.50,787.00 L110.65,787.10 L110.81,787.21 L110.97,787.32 L111.12,787.44 L111.28,787.56 L111.43,787.68 L111.59,787.79 L111.75,787.90 L111.90,788.00 L112.06,788.10 L112.22,788.18 L112.37,788.26 L112.53,788.32 L112.69,788.36 L112.84,788.39 L113.00,788.40 L113.16,788.40 L113.31,788.39 L113.47,788.37 L113.63,788.35 L113.78,788.32 L113.94,788.29 L114.10,788.26 L114.25,788.22 L114.41,788.18 L114.57,788.14 L114.72,788.10 L114.88,788.06 L115.03,788.02 L115.19,787.98 L115.35,787.94 L115.50,787.90 L115.66,787.87 L115.82,787.84 L115.97,787.81 L116.13,787.79 L116.29,787.77 L116.44,787.76 L116.60,787.76 L116.76,787.76 L116.91,787.77 L117.07,787.78 L117.23,787.79 L117.38,787.81 L117.54,787.82 L117.70,787.85 L117.85,787.87 L118.01,787.89 L118.17,787.91 L118.32,787.94 L118.48,787.96 L118.63,787.99 L118.79,788.01 L118.95,788.04 L119.10,788.06 L119.26,788.08 L119.42,788.10 L119.57,788.11 L119.73,788.13 L119.89,788.14 L120.04,788.14 L120.20,788.14 L120.36,788.14 L120.51,788.14 L120.67,788.14 L120.83,788.13 L120.98,788.13 L121.14,788.12 L121.30,788.11 L121.45,788.10 L121.61,788.10 L121.77,788.09 L121.92,788.08 L122.08,788.07 L122.23,788.06 L122.39,788.05 L122.55,788.04 L122.70,788.03 L122.86,788.02 L123.02,788.02 L123.17,788.01 L123.33,788.01 L123.49,788.00 L123.64,788.00 L123.80,788.00 L312.80,788.00" fill="none" stroke="url(#g4)" stroke-width="1.8" stroke-linejoin="round" stroke-linecap="round"/>
<text transform="translate(16.9,781.50) rotate(-90)" x="0" y="0" font-family="'Liberation Serif', serif" font-weight="bold" font-size="13.4" text-anchor="middle" textLength="263.2" lengthAdjust="spacingAndGlyphs" fill="#000">Host humans susceptible in Foreign (tourist)</text>
<text x="169.50" y="932.4" font-family="'Liberation Serif', serif" font-weight="bold" font-size="13.4" text-anchor="middle" textLength="66.2" lengthAdjust="spacingAndGlyphs" fill="#000">Time (Day)</text>
<text transform="translate(190.5,958.8) scale(0.95,1)" font-family="'Liberation Sans', sans-serif" font-size="14" fill="#383838" text-anchor="middle">(e)</text>
<line x1="423.20" y1="643.00" x2="423.20" y2="896.00" stroke="#7a7a7a" stroke-width="1.3"/>
<line x1="422.60" y1="896.00" x2="677.10" y2="896.00" stroke="#7a7a7a" stroke-width="1.4"/>
<line x1="676.60" y1="643.00" x2="676.60" y2="896.00" stroke="#555" stroke-width="1"/>
<line x1="423.70" y1="889.00" x2="424.90" y2="889.00" stroke="#333" stroke-width="0.7"/>
<line x1="423.70" y1="875.67" x2="424.90" y2="875.67" stroke="#333" stroke-width="0.7"/>
<line x1="423.70" y1="862.33" x2="424.90" y2="862.33" stroke="#333" stroke-width="0.7"/>
<line x1="423.70" y1="849.00" x2="425.60" y2="849.00" stroke="#333" stroke-width="0.7"/>
<line x1="423.70" y1="835.67" x2="424.90" y2="835.67" stroke="#333" stroke-width="0.7"/>
<line x1="423.70" y1="822.33" x2="424.90" y2="822.33" stroke="#333" stroke-width="0.7"/>
<line x1="423.70" y1="809.00" x2="424.90" y2="809.00" stroke="#333" stroke-width="0.7"/>
<line x1="423.70" y1="795.67" x2="425.60" y2="795.67" stroke="#333" stroke-width="0.7"/>
<line x1="423.70" y1="782.34" x2="424.90" y2="782.34" stroke="#333" stroke-width="0.7"/>
<line x1="423.70" y1="769.00" x2="424.90" y2="769.00" stroke="#333" stroke-width="0.7"/>
<line x1="423.70" y1="755.67" x2="424.90" y2="755.67" stroke="#333" stroke-width="0.7"/>
<line x1="423.70" y1="742.34" x2="425.60" y2="742.34" stroke="#333" stroke-width="0.7"/>
<line x1="423.70" y1="729.01" x2="424.90" y2="729.01" stroke="#333" stroke-width="0.7"/>
<line x1="423.70" y1="715.67" x2="424.90" y2="715.67" stroke="#333" stroke-width="0.7"/>
<line x1="423.70" y1="702.34" x2="424.90" y2="702.34" stroke="#333" stroke-width="0.7"/>
<line x1="423.70" y1="689.01" x2="425.60" y2="689.01" stroke="#333" stroke-width="0.7"/>
<line x1="423.70" y1="675.68" x2="424.90" y2="675.68" stroke="#333" stroke-width="0.7"/>
<line x1="423.70" y1="662.35" x2="424.90" y2="662.35" stroke="#333" stroke-width="0.7"/>
<line x1="423.70" y1="649.01" x2="424.90" y2="649.01" stroke="#333" stroke-width="0.7"/>
<text transform="translate(419.60,850.10) scale(0.88,1)" font-family="'Liberation Serif', serif" font-size="7.8" fill="#333" text-anchor="end">7</text>
<line x1="411.50" y1="847.30" x2="415.10" y2="847.30" stroke="#333" stroke-width="0.65"/>
<text transform="translate(411.00,853.00) scale(0.88,1)" font-family="'Liberation Serif', serif" font-size="8" fill="#333" text-anchor="end">10</text>
<text transform="translate(402.40,853.00)" font-family="'Liberation Serif', serif" font-size="8" fill="#333" text-anchor="end">×</text>
<text transform="translate(396.50,853.00) scale(0.88,1)" font-family="'Liberation Serif', serif" font-size="8" fill="#333" text-anchor="end">1.6</text>
<text transform="translate(419.60,796.77) scale(0.88,1)" font-family="'Liberation Serif', serif" font-size="7.8" fill="#333" text-anchor="end">7</text>
<line x1="411.50" y1="793.97" x2="415.10" y2="793.97" stroke="#333" stroke-width="0.65"/>
<text transform="translate(411.00,799.67) scale(0.88,1)" font-family="'Liberation Serif', serif" font-size="8" fill="#333" text-anchor="end">10</text>
<text transform="translate(402.40,799.67)" font-family="'Liberation Serif', serif" font-size="8" fill="#333" text-anchor="end">×</text>
<text transform="translate(396.50,799.67) scale(0.88,1)" font-family="'Liberation Serif', serif" font-size="8" fill="#333" text-anchor="end">1.8</text>
<text transform="translate(419.60,743.44) scale(0.88,1)" font-family="'Liberation Serif', serif" font-size="7.8" fill="#333" text-anchor="end">7</text>
<line x1="411.50" y1="740.64" x2="415.10" y2="740.64" stroke="#333" stroke-width="0.65"/>
<text transform="translate(411.00,746.34) scale(0.88,1)" font-family="'Liberation Serif', serif" font-size="8" fill="#333" text-anchor="end">10</text>
<text transform="translate(402.40,746.34)" font-family="'Liberation Serif', serif" font-size="8" fill="#333" text-anchor="end">×</text>
<text transform="translate(396.50,746.34) scale(0.88,1)" font-family="'Liberation Serif', serif" font-size="8" fill="#333" text-anchor="end">2.</text>
<text transform="translate(419.60,690.11) scale(0.88,1)" font-family="'Liberation Serif', serif" font-size="7.8" fill="#333" text-anchor="end">7</text>
<line x1="411.50" y1="687.31" x2="415.10" y2="687.31" stroke="#333" stroke-width="0.65"/>
<text transform="translate(411.00,693.01) scale(0.88,1)" font-family="'Liberation Serif', serif" font-size="8" fill="#333" text-anchor="end">10</text>
<text transform="translate(402.40,693.01)" font-family="'Liberation Serif', serif" font-size="8" fill="#333" text-anchor="end">×</text>
<text transform="translate(396.50,693.01) scale(0.88,1)" font-family="'Liberation Serif', serif" font-size="8" fill="#333" text-anchor="end">2.2</text>
<line x1="427.40" y1="895.40" x2="427.40" y2="894.20" stroke="#333" stroke-width="0.7"/>
<line x1="434.00" y1="895.40" x2="434.00" y2="894.20" stroke="#333" stroke-width="0.7"/>
<line x1="440.60" y1="895.40" x2="440.60" y2="893.50" stroke="#333" stroke-width="0.7"/>
<line x1="447.20" y1="895.40" x2="447.20" y2="894.20" stroke="#333" stroke-width="0.7"/>
<line x1="453.80" y1="895.40" x2="453.80" y2="894.20" stroke="#333" stroke-width="0.7"/>
<line x1="460.40" y1="895.40" x2="460.40" y2="894.20" stroke="#333" stroke-width="0.7"/>
<line x1="467.00" y1="895.40" x2="467.00" y2="894.20" stroke="#333" stroke-width="0.7"/>
<line x1="473.60" y1="895.40" x2="473.60" y2="893.50" stroke="#333" stroke-width="0.7"/>
<line x1="480.20" y1="895.40" x2="480.20" y2="894.20" stroke="#333" stroke-width="0.7"/>
<line x1="486.80" y1="895.40" x2="486.80" y2="894.20" stroke="#333" stroke-width="0.7"/>
<line x1="493.40" y1="895.40" x2="493.40" y2="894.20" stroke="#333" stroke-width="0.7"/>
<line x1="500.00" y1="895.40" x2="500.00" y2="894.20" stroke="#333" stroke-width="0.7"/>
<line x1="506.60" y1="895.40" x2="506.60" y2="893.50" stroke="#333" stroke-width="0.7"/>
<line x1="513.20" y1="895.40" x2="513.20" y2="894.20" stroke="#333" stroke-width="0.7"/>
<line x1="519.80" y1="895.40" x2="519.80" y2="894.20" stroke="#333" stroke-width="0.7"/>
<line x1="526.40" y1="895.40" x2="526.40" y2="894.20" stroke="#333" stroke-width="0.7"/>
<line x1="533.00" y1="895.40" x2="533.00" y2="894.20" stroke="#333" stroke-width="0.7"/>
<line x1="539.60" y1="895.40" x2="539.60" y2="893.50" stroke="#333" stroke-width="0.7"/>
<line x1="546.20" y1="895.40" x2="546.20" y2="894.20" stroke="#333" stroke-width="0.7"/>
<line x1="552.80" y1="895.40" x2="552.80" y2="894.20" stroke="#333" stroke-width="0.7"/>
<line x1="559.40" y1="895.40" x2="559.40" y2="894.20" stroke="#333" stroke-width="0.7"/>
<line x1="566.00" y1="895.40" x2="566.00" y2="894.20" stroke="#333" stroke-width="0.7"/>
<line x1="572.60" y1="895.40" x2="572.60" y2="893.50" stroke="#333" stroke-width="0.7"/>
<line x1="579.20" y1="895.40" x2="579.20" y2="894.20" stroke="#333" stroke-width="0.7"/>
<line x1="585.80" y1="895.40" x2="585.80" y2="894.20" stroke="#333" stroke-width="0.7"/>
<line x1="592.40" y1="895.40" x2="592.40" y2="894.20" stroke="#333" stroke-width="0.7"/>
<line x1="599.00" y1="895.40" x2="599.00" y2="894.20" stroke="#333" stroke-width="0.7"/>
<line x1="605.60" y1="895.40" x2="605.60" y2="893.50" stroke="#333" stroke-width="0.7"/>
<line x1="612.20" y1="895.40" x2="612.20" y2="894.20" stroke="#333" stroke-width="0.7"/>
<line x1="618.80" y1="895.40" x2="618.80" y2="894.20" stroke="#333" stroke-width="0.7"/>
<line x1="625.40" y1="895.40" x2="625.40" y2="894.20" stroke="#333" stroke-width="0.7"/>
<line x1="632.00" y1="895.40" x2="632.00" y2="894.20" stroke="#333" stroke-width="0.7"/>
<line x1="638.60" y1="895.40" x2="638.60" y2="893.50" stroke="#333" stroke-width="0.7"/>
<line x1="645.20" y1="895.40" x2="645.20" y2="894.20" stroke="#333" stroke-width="0.7"/>
<line x1="651.80" y1="895.40" x2="651.80" y2="894.20" stroke="#333" stroke-width="0.7"/>
<line x1="658.40" y1="895.40" x2="658.40" y2="894.20" stroke="#333" stroke-width="0.7"/>
<line x1="665.00" y1="895.40" x2="665.00" y2="894.20" stroke="#333" stroke-width="0.7"/>
<line x1="671.60" y1="895.40" x2="671.60" y2="893.50" stroke="#333" stroke-width="0.7"/>
<text transform="translate(440.60,905.20) scale(0.807,1)" font-family="'Liberation Sans', sans-serif" font-size="7.8" fill="#2a2a2a" stroke="#2a2a2a" stroke-width="0.18" text-anchor="middle">500</text>
<text transform="translate(473.60,905.20) scale(0.807,1)" font-family="'Liberation Sans', sans-serif" font-size="7.8" fill="#2a2a2a" stroke="#2a2a2a" stroke-width="0.18" text-anchor="middle">1000</text>
<text transform="translate(506.60,905.20) scale(0.807,1)" font-family="'Liberation Sans', sans-serif" font-size="7.8" fill="#2a2a2a" stroke="#2a2a2a" stroke-width="0.18" text-anchor="middle">1500</text>
<text transform="translate(539.60,905.20) scale(0.807,1)" font-family="'Liberation Sans', sans-serif" font-size="7.8" fill="#2a2a2a" stroke="#2a2a2a" stroke-width="0.18" text-anchor="middle">2000</text>
<text transform="translate(572.60,905.20) scale(0.807,1)" font-family="'Liberation Sans', sans-serif" font-size="7.8" fill="#2a2a2a" stroke="#2a2a2a" stroke-width="0.18" text-anchor="middle">2500</text>
<text transform="translate(605.60,905.20) scale(0.807,1)" font-family="'Liberation Sans', sans-serif" font-size="7.8" fill="#2a2a2a" stroke="#2a2a2a" stroke-width="0.18" text-anchor="middle">3000</text>
<text transform="translate(638.60,905.20) scale(0.807,1)" font-family="'Liberation Sans', sans-serif" font-size="7.8" fill="#2a2a2a" stroke="#2a2a2a" stroke-width="0.18" text-anchor="middle">3500</text>
<text transform="translate(671.60,905.20) scale(0.807,1)" font-family="'Liberation Sans', sans-serif" font-size="7.8" fill="#2a2a2a" stroke="#2a2a2a" stroke-width="0.18" text-anchor="middle">4000</text>
<linearGradient id="g5" gradientUnits="userSpaceOnUse" x1="0" y1="647.00" x2="0" y2="891.60"><stop offset="0.0000" stop-color="#ff1f1f"/><stop offset="0.1667" stop-color="#ff1fff"/><stop offset="0.3333" stop-color="#1f1fff"/><stop offset="0.5000" stop-color="#1fffff"/><stop offset="0.6667" stop-color="#1fff1f"/><stop offset="0.8333" stop-color="#ffff1f"/><stop offset="1.0000" stop-color="#ff1f1f"/></linearGradient>
<path d="M428.00,891.60 L428.15,886.19 L428.31,879.46 L428.46,871.54 L428.62,862.54 L428.77,852.60 L428.92,841.83 L429.08,830.37 L429.23,818.34 L429.38,805.87 L429.54,793.07 L429.69,780.08 L429.85,767.02 L430.00,754.01 L430.15,741.19 L430.31,728.67 L430.46,716.58 L430.62,705.05 L430.77,694.21 L430.92,684.16 L431.08,675.06 L431.23,667.01 L431.38,660.14 L431.54,654.58 L431.69,650.45 L431.85,647.88 L432.00,647.00 L432.15,647.80 L432.30,650.10 L432.45,653.76 L432.60,658.66 L432.75,664.65 L432.90,671.59 L433.05,679.36 L433.20,687.81 L433.35,696.80 L433.50,706.21 L433.65,715.89 L433.80,725.70 L433.95,735.51 L434.10,745.19 L434.25,754.60 L434.40,763.59 L434.55,772.04 L434.70,779.81 L434.85,786.75 L435.00,792.74 L435.15,797.64 L435.30,801.30 L435.45,803.60 L435.60,804.40 L435.75,803.86 L435.91,802.29 L436.06,799.82 L436.22,796.52 L436.37,792.51 L436.53,787.90 L436.68,782.77 L436.84,777.23 L436.99,771.39 L437.15,765.35 L437.30,759.20 L437.45,753.05 L437.61,747.01 L437.76,741.17 L437.92,735.63 L438.07,730.50 L438.23,725.89 L438.38,721.88 L438.54,718.58 L438.69,716.11 L438.85,714.54 L439.00,714.00 L439.15,714.24 L439.31,714.93 L439.46,716.03 L439.62,717.50 L439.77,719.32 L439.92,721.44 L440.08,723.81 L440.23,726.42 L440.38,729.21 L440.54,732.15 L440.69,735.20 L440.85,738.33 L441.00,741.50 L441.15,744.67 L441.31,747.80 L441.46,750.85 L441.62,753.79 L441.77,756.58 L441.92,759.19 L442.08,761.56 L442.23,763.68 L442.38,765.50 L442.54,766.97 L442.69,768.07 L442.85,768.76 L443.00,769.00 L443.15,768.84 L443.30,768.37 L443.45,767.62 L443.60,766.63 L443.75,765.41 L443.90,764.00 L444.05,762.42 L444.20,760.70 L444.35,758.88 L444.50,756.96 L444.65,755.00 L444.80,753.00 L444.95,751.00 L445.10,749.04 L445.25,747.12 L445.40,745.30 L445.55,743.58 L445.70,742.00 L445.85,740.59 L446.00,739.37 L446.15,738.38 L446.30,737.63 L446.45,737.16 L446.60,737.00 L446.75,737.12 L446.91,737.45 L447.06,737.98 L447.22,738.69 L447.37,739.55 L447.53,740.54 L447.68,741.64 L447.84,742.83 L447.99,744.08 L448.15,745.38 L448.30,746.70 L448.45,748.02 L448.61,749.32 L448.76,750.57 L448.92,751.76 L449.07,752.86 L449.23,753.85 L449.38,754.71 L449.54,755.42 L449.69,755.95 L449.85,756.28 L450.00,756.40 L450.15,756.35 L450.31,756.20 L450.46,755.96 L450.62,755.64 L450.77,755.24 L450.92,754.78 L451.08,754.26 L451.23,753.69 L451.38,753.08 L451.54,752.44 L451.69,751.77 L451.85,751.09 L452.00,750.40 L452.15,749.71 L452.31,749.03 L452.46,748.36 L452.62,747.72 L452.77,747.11 L452.92,746.54 L453.08,746.02 L453.23,745.56 L453.38,745.16 L453.54,744.84 L453.69,744.60 L453.85,744.45 L454.00,744.40 L454.15,744.44 L454.30,744.54 L454.45,744.71 L454.60,744.93 L454.75,745.21 L454.90,745.52 L455.05,745.88 L455.20,746.27 L455.35,746.68 L455.50,747.11 L455.65,747.55 L455.80,748.00 L455.95,748.45 L456.10,748.89 L456.25,749.32 L456.40,749.73 L456.55,750.12 L456.70,750.48 L456.85,750.79 L457.00,751.07 L457.15,751.29 L457.30,751.46 L457.45,751.56 L457.60,751.60 L457.75,751.58 L457.91,751.52 L458.06,751.42 L458.22,751.29 L458.37,751.13 L458.53,750.94 L458.68,750.74 L458.84,750.52 L458.99,750.29 L459.15,750.04 L459.30,749.80 L459.45,749.56 L459.61,749.31 L459.76,749.08 L459.92,748.86 L460.07,748.66 L460.23,748.47 L460.38,748.31 L460.54,748.18 L460.69,748.08 L460.85,748.02 L461.00,748.00 L461.15,748.01 L461.31,748.05 L461.46,748.11 L461.62,748.20 L461.77,748.29 L461.93,748.41 L462.08,748.54 L462.24,748.67 L462.39,748.82 L462.55,748.97 L462.70,749.12 L462.85,749.27 L463.01,749.42 L463.16,749.57 L463.32,749.70 L463.47,749.83 L463.63,749.95 L463.78,750.04 L463.94,750.13 L464.09,750.19 L464.25,750.23 L464.40,750.24 L464.55,750.23 L464.71,750.21 L464.86,750.17 L465.02,750.12 L465.17,750.06 L465.33,749.99 L465.48,749.92 L465.64,749.84 L465.79,749.75 L465.95,749.66 L466.10,749.57 L466.25,749.48 L466.41,749.39 L466.56,749.30 L466.72,749.22 L466.87,749.14 L467.03,749.07 L467.18,749.01 L467.34,748.96 L467.49,748.93 L467.65,748.90 L467.80,748.90 L467.95,748.90 L468.11,748.92 L468.26,748.94 L468.42,748.97 L468.57,749.00 L468.73,749.05 L468.88,749.09 L469.04,749.14 L469.19,749.20 L469.35,749.25 L469.50,749.31 L469.65,749.36 L469.81,749.42 L469.96,749.47 L470.12,749.52 L470.27,749.57 L470.43,749.61 L470.58,749.65 L470.74,749.68 L470.89,749.70 L471.05,749.72 L471.20,749.72 L471.35,749.72 L471.51,749.71 L471.66,749.69 L471.82,749.66 L471.97,749.64 L472.13,749.60 L472.28,749.57 L472.44,749.53 L472.59,749.49 L472.75,749.44 L472.90,749.40 L473.05,749.36 L473.21,749.31 L473.36,749.27 L473.52,749.23 L473.67,749.20 L473.83,749.16 L473.98,749.14 L474.14,749.11 L474.29,749.09 L474.45,749.08 L474.60,749.08 L474.75,749.08 L474.91,749.09 L475.06,749.11 L475.22,749.14 L475.37,749.16 L475.53,749.20 L475.68,749.23 L475.84,749.27 L475.99,749.31 L476.15,749.36 L476.30,749.40 L476.45,749.44 L476.61,749.49 L476.76,749.53 L476.92,749.57 L477.07,749.60 L477.23,749.64 L477.38,749.66 L477.54,749.69 L477.69,749.71 L477.85,749.72 L478.00,749.72 L478.15,749.72 L478.31,749.71 L478.46,749.69 L478.62,749.66 L478.77,749.64 L478.93,749.60 L479.08,749.57 L479.24,749.53 L479.39,749.49 L479.55,749.44 L479.70,749.40 L479.85,749.36 L480.01,749.31 L480.16,749.27 L480.32,749.23 L480.47,749.20 L480.63,749.16 L480.78,749.14 L480.94,749.11 L481.09,749.09 L481.25,749.08 L481.40,749.08 L481.55,749.08 L481.71,749.09 L481.86,749.11 L482.02,749.14 L482.17,749.16 L482.33,749.20 L482.48,749.23 L482.64,749.27 L482.79,749.31 L482.95,749.36 L483.10,749.40 L483.25,749.44 L483.41,749.49 L483.56,749.53 L483.72,749.57 L483.87,749.60 L484.03,749.64 L484.18,749.66 L484.34,749.69 L484.49,749.71 L484.65,749.72 L484.80,749.72 L484.95,749.72 L485.11,749.71 L485.26,749.69 L485.42,749.66 L485.57,749.64 L485.73,749.60 L485.88,749.57 L486.04,749.53 L486.19,749.49 L486.35,749.44 L486.50,749.40 L486.65,749.36 L486.81,749.31 L486.96,749.27 L487.12,749.23 L487.27,749.20 L487.43,749.16 L487.58,749.14 L487.74,749.11 L487.89,749.09 L488.05,749.08 L488.20,749.08 L488.35,749.08 L488.51,749.09 L488.66,749.11 L488.82,749.14 L488.97,749.16 L489.13,749.20 L489.28,749.23 L489.44,749.27 L489.59,749.31 L489.75,749.36 L489.90,749.40 L490.05,749.44 L490.21,749.49 L490.36,749.53 L490.52,749.57 L490.67,749.60 L490.83,749.64 L490.98,749.66 L491.14,749.69 L491.29,749.71 L491.45,749.72 L491.60,749.72 L491.75,749.72 L491.91,749.71 L492.06,749.69 L492.22,749.66 L492.37,749.64 L492.53,749.60 L492.68,749.57 L492.84,749.53 L492.99,749.49 L493.15,749.44 L493.30,749.40 L493.45,749.36 L493.61,749.31 L493.76,749.27 L493.92,749.23 L494.07,749.20 L494.23,749.16 L494.38,749.14 L494.54,749.11 L494.69,749.09 L494.85,749.08 L495.00,749.08 L495.15,749.08 L495.31,749.09 L495.46,749.11 L495.62,749.14 L495.77,749.16 L495.93,749.20 L496.08,749.23 L496.24,749.27 L496.39,749.31 L496.55,749.36 L496.70,749.40 L496.85,749.44 L497.01,749.49 L497.16,749.53 L497.32,749.57 L497.47,749.60 L497.63,749.64 L497.78,749.66 L497.94,749.69 L498.09,749.71 L498.25,749.72 L498.40,749.72 L498.55,749.72 L498.71,749.71 L498.86,749.69 L499.02,749.66 L499.17,749.64 L499.33,749.60 L499.48,749.57 L499.64,749.53 L499.79,749.49 L499.95,749.44 L500.10,749.40 L500.25,749.36 L500.41,749.31 L500.56,749.27 L500.72,749.23 L500.87,749.20 L501.03,749.16 L501.18,749.14 L501.34,749.11 L501.49,749.09 L501.65,749.08 L501.80,749.08 L501.95,749.08 L502.11,749.09 L502.26,749.11 L502.42,749.14 L502.57,749.16 L502.73,749.20 L502.88,749.23 L503.04,749.27 L503.19,749.31 L503.35,749.36 L503.50,749.40 L503.65,749.44 L503.81,749.49 L503.96,749.53 L504.12,749.57 L504.27,749.60 L504.43,749.64 L504.58,749.66 L504.74,749.69 L504.89,749.71 L505.05,749.72 L505.20,749.72 L505.35,749.72 L505.51,749.71 L505.66,749.69 L505.82,749.66 L505.97,749.64 L506.13,749.60 L506.28,749.57 L506.44,749.53 L506.59,749.49 L506.75,749.44 L506.90,749.40 L507.05,749.36 L507.21,749.31 L507.36,749.27 L507.52,749.23 L507.67,749.20 L507.83,749.16 L507.98,749.14 L508.14,749.11 L508.29,749.09 L508.45,749.08 L508.60,749.08 L508.75,749.08 L508.91,749.09 L509.06,749.11 L509.22,749.14 L509.37,749.16 L509.53,749.20 L509.68,749.23 L509.84,749.27 L509.99,749.31 L510.15,749.36 L510.30,749.40 L510.45,749.44 L510.61,749.49 L510.76,749.53 L510.92,749.57 L511.07,749.60 L511.23,749.64 L511.38,749.66 L511.54,749.69 L511.69,749.71 L511.85,749.72 L512.00,749.72 L512.15,749.72 L512.31,749.71 L512.46,749.69 L512.62,749.66 L512.77,749.64 L512.93,749.60 L513.08,749.57 L513.24,749.53 L513.39,749.49 L513.55,749.44 L513.70,749.40 L513.85,749.36 L514.01,749.31 L514.16,749.27 L514.32,749.23 L514.47,749.20 L514.63,749.16 L514.78,749.14 L514.94,749.11 L515.09,749.09 L515.25,749.08 L515.40,749.08 L515.55,749.08 L515.71,749.09 L515.86,749.11 L516.02,749.14 L516.17,749.16 L516.33,749.20 L516.48,749.23 L516.64,749.27 L516.79,749.31 L516.95,749.36 L517.10,749.40 L517.25,749.44 L517.41,749.49 L517.56,749.53 L517.72,749.57 L517.87,749.60 L518.03,749.64 L518.18,749.66 L518.34,749.69 L518.49,749.71 L518.65,749.72 L518.80,749.72 L518.95,749.72 L519.11,749.71 L519.26,749.70 L519.42,749.69 L519.57,749.68 L519.73,749.66 L519.88,749.64 L520.04,749.62 L520.19,749.60 L520.35,749.58 L520.50,749.56 L520.65,749.54 L520.81,749.52 L520.96,749.50 L521.12,749.48 L521.27,749.46 L521.43,749.44 L521.58,749.43 L521.74,749.42 L521.89,749.41 L522.05,749.40 L522.20,749.40 L671.60,749.40" fill="none" stroke="url(#g5)" stroke-width="1.8" stroke-linejoin="round" stroke-linecap="round"/>
<text transform="translate(368.0,778.50) rotate(-90)" x="0" y="0" font-family="'Liberation Serif', serif" font-weight="bold" font-size="13.4" text-anchor="middle" textLength="247.6" lengthAdjust="spacingAndGlyphs" fill="#000">Host humans exposed in Foreign (tourist)</text>
<text x="535.60" y="931.6" font-family="'Liberation Serif', serif" font-weight="bold" font-size="13.4" text-anchor="middle" textLength="67.2" lengthAdjust="spacingAndGlyphs" fill="#000">Time (Day)</text>
<text transform="translate(523,958.8) scale(0.95,1)" font-family="'Liberation Sans', sans-serif" font-size="14" fill="#383838" text-anchor="middle">(f)</text>
<line x1="68.20" y1="999.00" x2="68.20" y2="1238.00" stroke="#7a7a7a" stroke-width="1.3"/>
<line x1="67.60" y1="1238.00" x2="307.60" y2="1238.00" stroke="#7a7a7a" stroke-width="1.4"/>
<line x1="307.10" y1="999.00" x2="307.10" y2="1238.00" stroke="#999" stroke-width="1.5"/>
<line x1="68.70" y1="1232.66" x2="70.10" y2="1232.66" stroke="#333" stroke-width="0.7"/>
<line x1="68.70" y1="1222.40" x2="70.10" y2="1222.40" stroke="#333" stroke-width="0.7"/>
<line x1="68.70" y1="1212.13" x2="70.10" y2="1212.13" stroke="#333" stroke-width="0.7"/>
<line x1="68.70" y1="1201.87" x2="70.10" y2="1201.87" stroke="#333" stroke-width="0.7"/>
<line x1="68.70" y1="1191.60" x2="71.00" y2="1191.60" stroke="#333" stroke-width="0.7"/>
<line x1="68.70" y1="1181.33" x2="70.10" y2="1181.33" stroke="#333" stroke-width="0.7"/>
<line x1="68.70" y1="1171.07" x2="70.10" y2="1171.07" stroke="#333" stroke-width="0.7"/>
<line x1="68.70" y1="1160.80" x2="70.10" y2="1160.80" stroke="#333" stroke-width="0.7"/>
<line x1="68.70" y1="1150.54" x2="70.10" y2="1150.54" stroke="#333" stroke-width="0.7"/>
<line x1="68.70" y1="1140.27" x2="71.00" y2="1140.27" stroke="#333" stroke-width="0.7"/>
<line x1="68.70" y1="1130.00" x2="70.10" y2="1130.00" stroke="#333" stroke-width="0.7"/>
<line x1="68.70" y1="1119.74" x2="70.10" y2="1119.74" stroke="#333" stroke-width="0.7"/>
<line x1="68.70" y1="1109.47" x2="70.10" y2="1109.47" stroke="#333" stroke-width="0.7"/>
<line x1="68.70" y1="1099.21" x2="70.10" y2="1099.21" stroke="#333" stroke-width="0.7"/>
<line x1="68.70" y1="1088.94" x2="71.00" y2="1088.94" stroke="#333" stroke-width="0.7"/>
<line x1="68.70" y1="1078.67" x2="70.10" y2="1078.67" stroke="#333" stroke-width="0.7"/>
<line x1="68.70" y1="1068.41" x2="70.10" y2="1068.41" stroke="#333" stroke-width="0.7"/>
<line x1="68.70" y1="1058.14" x2="70.10" y2="1058.14" stroke="#333" stroke-width="0.7"/>
<line x1="68.70" y1="1047.88" x2="70.10" y2="1047.88" stroke="#333" stroke-width="0.7"/>
<line x1="68.70" y1="1037.61" x2="71.00" y2="1037.61" stroke="#333" stroke-width="0.7"/>
<line x1="68.70" y1="1027.34" x2="70.10" y2="1027.34" stroke="#333" stroke-width="0.7"/>
<line x1="68.70" y1="1017.08" x2="70.10" y2="1017.08" stroke="#333" stroke-width="0.7"/>
<line x1="68.70" y1="1006.81" x2="70.10" y2="1006.81" stroke="#333" stroke-width="0.7"/>
<text transform="translate(65.80,1192.70) scale(0.88,1)" font-family="'Liberation Serif', serif" font-size="7.8" fill="#333" text-anchor="end">6</text>
<line x1="57.70" y1="1189.90" x2="61.30" y2="1189.90" stroke="#333" stroke-width="0.65"/>
<text transform="translate(57.20,1195.10) scale(0.88,1)" font-family="'Liberation Serif', serif" font-size="8" fill="#333" text-anchor="end">10</text>
<text transform="translate(48.60,1195.10)" font-family="'Liberation Serif', serif" font-size="8" fill="#333" text-anchor="end">×</text>
<text transform="translate(42.70,1195.10) scale(0.88,1)" font-family="'Liberation Serif', serif" font-size="8" fill="#333" text-anchor="end">1.25</text>
<text transform="translate(65.80,1141.37) scale(0.88,1)" font-family="'Liberation Serif', serif" font-size="7.8" fill="#333" text-anchor="end">6</text>
<line x1="57.70" y1="1138.57" x2="61.30" y2="1138.57" stroke="#333" stroke-width="0.65"/>
<text transform="translate(57.20,1143.77) scale(0.88,1)" font-family="'Liberation Serif', serif" font-size="8" fill="#333" text-anchor="end">10</text>
<text transform="translate(48.60,1143.77)" font-family="'Liberation Serif', serif" font-size="8" fill="#333" text-anchor="end">×</text>
<text transform="translate(42.70,1143.77) scale(0.88,1)" font-family="'Liberation Serif', serif" font-size="8" fill="#333" text-anchor="end">1.3</text>
<text transform="translate(65.80,1090.04) scale(0.88,1)" font-family="'Liberation Serif', serif" font-size="7.8" fill="#333" text-anchor="end">6</text>
<line x1="57.70" y1="1087.24" x2="61.30" y2="1087.24" stroke="#333" stroke-width="0.65"/>
<text transform="translate(57.20,1092.44) scale(0.88,1)" font-family="'Liberation Serif', serif" font-size="8" fill="#333" text-anchor="end">10</text>
<text transform="translate(48.60,1092.44)" font-family="'Liberation Serif', serif" font-size="8" fill="#333" text-anchor="end">×</text>
<text transform="translate(42.70,1092.44) scale(0.88,1)" font-family="'Liberation Serif', serif" font-size="8" fill="#333" text-anchor="end">1.35</text>
<text transform="translate(65.80,1038.71) scale(0.88,1)" font-family="'Liberation Serif', serif" font-size="7.8" fill="#333" text-anchor="end">6</text>
<line x1="57.70" y1="1035.91" x2="61.30" y2="1035.91" stroke="#333" stroke-width="0.65"/>
<text transform="translate(57.20,1041.11) scale(0.88,1)" font-family="'Liberation Serif', serif" font-size="8" fill="#333" text-anchor="end">10</text>
<text transform="translate(48.60,1041.11)" font-family="'Liberation Serif', serif" font-size="8" fill="#333" text-anchor="end">×</text>
<text transform="translate(42.70,1041.11) scale(0.88,1)" font-family="'Liberation Serif', serif" font-size="8" fill="#333" text-anchor="end">1.4</text>
<line x1="71.60" y1="1237.40" x2="71.60" y2="1236.00" stroke="#333" stroke-width="0.7"/>
<line x1="77.83" y1="1237.40" x2="77.83" y2="1235.10" stroke="#333" stroke-width="0.7"/>
<line x1="84.07" y1="1237.40" x2="84.07" y2="1236.00" stroke="#333" stroke-width="0.7"/>
<line x1="90.30" y1="1237.40" x2="90.30" y2="1236.00" stroke="#333" stroke-width="0.7"/>
<line x1="96.53" y1="1237.40" x2="96.53" y2="1236.00" stroke="#333" stroke-width="0.7"/>
<line x1="102.77" y1="1237.40" x2="102.77" y2="1236.00" stroke="#333" stroke-width="0.7"/>
<line x1="109.00" y1="1237.40" x2="109.00" y2="1235.10" stroke="#333" stroke-width="0.7"/>
<line x1="115.23" y1="1237.40" x2="115.23" y2="1236.00" stroke="#333" stroke-width="0.7"/>
<line x1="121.47" y1="1237.40" x2="121.47" y2="1236.00" stroke="#333" stroke-width="0.7"/>
<line x1="127.70" y1="1237.40" x2="127.70" y2="1236.00" stroke="#333" stroke-width="0.7"/>
<line x1="133.93" y1="1237.40" x2="133.93" y2="1236.00" stroke="#333" stroke-width="0.7"/>
<line x1="140.16" y1="1237.40" x2="140.16" y2="1235.10" stroke="#333" stroke-width="0.7"/>
<line x1="146.40" y1="1237.40" x2="146.40" y2="1236.00" stroke="#333" stroke-width="0.7"/>
<line x1="152.63" y1="1237.40" x2="152.63" y2="1236.00" stroke="#333" stroke-width="0.7"/>
<line x1="158.86" y1="1237.40" x2="158.86" y2="1236.00" stroke="#333" stroke-width="0.7"/>
<line x1="165.10" y1="1237.40" x2="165.10" y2="1236.00" stroke="#333" stroke-width="0.7"/>
<line x1="171.33" y1="1237.40" x2="171.33" y2="1235.10" stroke="#333" stroke-width="0.7"/>
<line x1="177.56" y1="1237.40" x2="177.56" y2="1236.00" stroke="#333" stroke-width="0.7"/>
<line x1="183.80" y1="1237.40" x2="183.80" y2="1236.00" stroke="#333" stroke-width="0.7"/>
<line x1="190.03" y1="1237.40" x2="190.03" y2="1236.00" stroke="#333" stroke-width="0.7"/>
<line x1="196.26" y1="1237.40" x2="196.26" y2="1236.00" stroke="#333" stroke-width="0.7"/>
<line x1="202.50" y1="1237.40" x2="202.50" y2="1235.10" stroke="#333" stroke-width="0.7"/>
<line x1="208.73" y1="1237.40" x2="208.73" y2="1236.00" stroke="#333" stroke-width="0.7"/>
<line x1="214.96" y1="1237.40" x2="214.96" y2="1236.00" stroke="#333" stroke-width="0.7"/>
<line x1="221.19" y1="1237.40" x2="221.19" y2="1236.00" stroke="#333" stroke-width="0.7"/>
<line x1="227.43" y1="1237.40" x2="227.43" y2="1236.00" stroke="#333" stroke-width="0.7"/>
<line x1="233.66" y1="1237.40" x2="233.66" y2="1235.10" stroke="#333" stroke-width="0.7"/>
<line x1="239.89" y1="1237.40" x2="239.89" y2="1236.00" stroke="#333" stroke-width="0.7"/>
<line x1="246.13" y1="1237.40" x2="246.13" y2="1236.00" stroke="#333" stroke-width="0.7"/>
<line x1="252.36" y1="1237.40" x2="252.36" y2="1236.00" stroke="#333" stroke-width="0.7"/>
<line x1="258.59" y1="1237.40" x2="258.59" y2="1236.00" stroke="#333" stroke-width="0.7"/>
<line x1="264.83" y1="1237.40" x2="264.83" y2="1235.10" stroke="#333" stroke-width="0.7"/>
<line x1="271.06" y1="1237.40" x2="271.06" y2="1236.00" stroke="#333" stroke-width="0.7"/>
<line x1="277.29" y1="1237.40" x2="277.29" y2="1236.00" stroke="#333" stroke-width="0.7"/>
<line x1="283.52" y1="1237.40" x2="283.52" y2="1236.00" stroke="#333" stroke-width="0.7"/>
<line x1="289.76" y1="1237.40" x2="289.76" y2="1236.00" stroke="#333" stroke-width="0.7"/>
<line x1="295.99" y1="1237.40" x2="295.99" y2="1235.10" stroke="#333" stroke-width="0.7"/>
<line x1="302.22" y1="1237.40" x2="302.22" y2="1236.00" stroke="#333" stroke-width="0.7"/>
<text transform="translate(77.83,1247.30) scale(0.81,1)" font-family="'Liberation Sans', sans-serif" font-size="7.6" fill="#2a2a2a" stroke="#2a2a2a" stroke-width="0.18" text-anchor="middle">500</text>
<text transform="translate(109.00,1247.30) scale(0.81,1)" font-family="'Liberation Sans', sans-serif" font-size="7.6" fill="#2a2a2a" stroke="#2a2a2a" stroke-width="0.18" text-anchor="middle">1000</text>
<text transform="translate(140.16,1247.30) scale(0.81,1)" font-family="'Liberation Sans', sans-serif" font-size="7.6" fill="#2a2a2a" stroke="#2a2a2a" stroke-width="0.18" text-anchor="middle">1500</text>
<text transform="translate(171.33,1247.30) scale(0.81,1)" font-family="'Liberation Sans', sans-serif" font-size="7.6" fill="#2a2a2a" stroke="#2a2a2a" stroke-width="0.18" text-anchor="middle">2000</text>
<text transform="translate(202.50,1247.30) scale(0.81,1)" font-family="'Liberation Sans', sans-serif" font-size="7.6" fill="#2a2a2a" stroke="#2a2a2a" stroke-width="0.18" text-anchor="middle">2500</text>
<text transform="translate(233.66,1247.30) scale(0.81,1)" font-family="'Liberation Sans', sans-serif" font-size="7.6" fill="#2a2a2a" stroke="#2a2a2a" stroke-width="0.18" text-anchor="middle">3000</text>
<text transform="translate(264.83,1247.30) scale(0.81,1)" font-family="'Liberation Sans', sans-serif" font-size="7.6" fill="#2a2a2a" stroke="#2a2a2a" stroke-width="0.18" text-anchor="middle">3500</text>
<text transform="translate(295.99,1247.30) scale(0.81,1)" font-family="'Liberation Sans', sans-serif" font-size="7.6" fill="#2a2a2a" stroke="#2a2a2a" stroke-width="0.18" text-anchor="middle">4000</text>
<linearGradient id="g6" gradientUnits="userSpaceOnUse" x1="0" y1="1003.00" x2="0" y2="1229.60"><stop offset="0.0000" stop-color="#ff1f1f"/><stop offset="0.1667" stop-color="#ff1fff"/><stop offset="0.3333" stop-color="#1f1fff"/><stop offset="0.5000" stop-color="#1fffff"/><stop offset="0.6667" stop-color="#1fff1f"/><stop offset="0.8333" stop-color="#ffff1f"/><stop offset="1.0000" stop-color="#ff1f1f"/></linearGradient>
<path d="M73.00,1229.60 L73.15,1223.55 L73.31,1215.81 L73.46,1206.58 L73.62,1196.06 L73.77,1184.43 L73.93,1171.89 L74.08,1158.62 L74.24,1144.82 L74.39,1130.68 L74.55,1116.39 L74.70,1102.14 L74.85,1088.12 L75.01,1074.54 L75.16,1061.57 L75.32,1049.40 L75.47,1038.24 L75.63,1028.27 L75.78,1019.68 L75.94,1012.67 L76.09,1007.43 L76.25,1004.14 L76.40,1003.00 L76.55,1004.05 L76.70,1007.05 L76.85,1011.78 L77.00,1018.04 L77.15,1025.59 L77.30,1034.23 L77.45,1043.74 L77.60,1053.90 L77.75,1064.49 L77.90,1075.30 L78.05,1086.11 L78.20,1096.70 L78.35,1106.86 L78.50,1116.37 L78.65,1125.01 L78.80,1132.56 L78.95,1138.82 L79.10,1143.55 L79.25,1146.55 L79.40,1147.60 L79.55,1147.20 L79.70,1146.04 L79.86,1144.20 L80.01,1141.73 L80.16,1138.70 L80.31,1135.17 L80.46,1131.23 L80.62,1126.91 L80.77,1122.31 L80.92,1117.47 L81.07,1112.47 L81.22,1107.37 L81.38,1102.23 L81.53,1097.13 L81.68,1092.13 L81.83,1087.29 L81.98,1082.69 L82.14,1078.37 L82.29,1074.43 L82.44,1070.90 L82.59,1067.87 L82.74,1065.40 L82.90,1063.56 L83.05,1062.40 L83.20,1062.00 L83.35,1062.35 L83.50,1063.35 L83.66,1064.94 L83.81,1067.04 L83.96,1069.58 L84.11,1072.51 L84.27,1075.74 L84.42,1079.21 L84.57,1082.86 L84.72,1086.61 L84.88,1090.39 L85.03,1094.14 L85.18,1097.79 L85.33,1101.26 L85.49,1104.49 L85.64,1107.42 L85.79,1109.96 L85.94,1112.06 L86.10,1113.65 L86.25,1114.65 L86.40,1115.00 L86.55,1114.81 L86.71,1114.25 L86.86,1113.38 L87.02,1112.21 L87.17,1110.79 L87.33,1109.16 L87.48,1107.34 L87.64,1105.38 L87.79,1103.32 L87.95,1101.18 L88.10,1099.00 L88.25,1096.82 L88.41,1094.68 L88.56,1092.62 L88.72,1090.66 L88.87,1088.84 L89.03,1087.21 L89.18,1085.79 L89.34,1084.62 L89.49,1083.75 L89.65,1083.19 L89.80,1083.00 L89.95,1083.10 L90.10,1083.37 L90.25,1083.82 L90.40,1084.41 L90.55,1085.13 L90.70,1085.97 L90.85,1086.91 L91.00,1087.93 L91.15,1089.01 L91.30,1090.15 L91.45,1091.32 L91.60,1092.50 L91.75,1093.68 L91.90,1094.85 L92.05,1095.99 L92.20,1097.07 L92.35,1098.09 L92.50,1099.03 L92.65,1099.87 L92.80,1100.59 L92.95,1101.18 L93.10,1101.63 L93.25,1101.90 L93.40,1102.00 L93.55,1101.92 L93.70,1101.69 L93.85,1101.33 L94.00,1100.86 L94.15,1100.28 L94.30,1099.62 L94.45,1098.90 L94.60,1098.13 L94.75,1097.32 L94.90,1096.50 L95.05,1095.68 L95.20,1094.87 L95.35,1094.10 L95.50,1093.38 L95.65,1092.72 L95.80,1092.14 L95.95,1091.67 L96.10,1091.31 L96.25,1091.08 L96.40,1091.00 L96.56,1091.04 L96.71,1091.14 L96.87,1091.30 L97.03,1091.51 L97.18,1091.78 L97.34,1092.08 L97.50,1092.42 L97.65,1092.78 L97.81,1093.17 L97.97,1093.58 L98.12,1093.99 L98.28,1094.41 L98.43,1094.82 L98.59,1095.23 L98.75,1095.62 L98.90,1095.98 L99.06,1096.32 L99.22,1096.62 L99.37,1096.89 L99.53,1097.10 L99.69,1097.26 L99.84,1097.36 L100.00,1097.40 L100.15,1097.37 L100.30,1097.30 L100.46,1097.19 L100.61,1097.04 L100.76,1096.86 L100.91,1096.65 L101.07,1096.41 L101.22,1096.17 L101.37,1095.90 L101.52,1095.64 L101.68,1095.36 L101.83,1095.10 L101.98,1094.83 L102.13,1094.59 L102.29,1094.35 L102.44,1094.14 L102.59,1093.96 L102.74,1093.81 L102.90,1093.70 L103.05,1093.63 L103.20,1093.60 L103.35,1093.61 L103.50,1093.66 L103.66,1093.72 L103.81,1093.81 L103.96,1093.92 L104.11,1094.04 L104.27,1094.18 L104.42,1094.33 L104.57,1094.48 L104.72,1094.64 L104.88,1094.80 L105.03,1094.96 L105.18,1095.11 L105.33,1095.26 L105.49,1095.40 L105.64,1095.52 L105.79,1095.63 L105.94,1095.72 L106.10,1095.78 L106.25,1095.83 L106.40,1095.84 L106.55,1095.83 L106.70,1095.81 L106.86,1095.77 L107.01,1095.71 L107.16,1095.65 L107.31,1095.57 L107.47,1095.49 L107.62,1095.40 L107.77,1095.31 L107.92,1095.22 L108.08,1095.12 L108.23,1095.02 L108.38,1094.93 L108.53,1094.84 L108.69,1094.76 L108.84,1094.69 L108.99,1094.62 L109.14,1094.57 L109.30,1094.53 L109.45,1094.50 L109.60,1094.50 L109.75,1094.50 L109.90,1094.52 L110.06,1094.54 L110.21,1094.57 L110.36,1094.61 L110.51,1094.66 L110.67,1094.71 L110.82,1094.76 L110.97,1094.82 L111.12,1094.88 L111.28,1094.94 L111.43,1095.00 L111.58,1095.05 L111.73,1095.11 L111.89,1095.16 L112.04,1095.20 L112.19,1095.24 L112.34,1095.27 L112.50,1095.30 L112.65,1095.31 L112.80,1095.32 L112.95,1095.32 L113.10,1095.30 L113.26,1095.28 L113.41,1095.26 L113.56,1095.23 L113.71,1095.19 L113.87,1095.15 L114.02,1095.11 L114.17,1095.07 L114.32,1095.02 L114.48,1094.98 L114.63,1094.93 L114.78,1094.89 L114.93,1094.85 L115.09,1094.81 L115.24,1094.77 L115.39,1094.74 L115.54,1094.72 L115.70,1094.70 L115.85,1094.68 L116.00,1094.68 L116.15,1094.68 L116.30,1094.70 L116.46,1094.72 L116.61,1094.74 L116.76,1094.77 L116.91,1094.81 L117.07,1094.85 L117.22,1094.89 L117.37,1094.93 L117.52,1094.98 L117.68,1095.02 L117.83,1095.07 L117.98,1095.11 L118.13,1095.15 L118.29,1095.19 L118.44,1095.23 L118.59,1095.26 L118.74,1095.28 L118.90,1095.30 L119.05,1095.32 L119.20,1095.32 L119.35,1095.32 L119.50,1095.30 L119.66,1095.28 L119.81,1095.26 L119.96,1095.23 L120.11,1095.19 L120.27,1095.15 L120.42,1095.11 L120.57,1095.07 L120.72,1095.02 L120.88,1094.98 L121.03,1094.93 L121.18,1094.89 L121.33,1094.85 L121.49,1094.81 L121.64,1094.77 L121.79,1094.74 L121.94,1094.72 L122.10,1094.70 L122.25,1094.68 L122.40,1094.68 L122.55,1094.68 L122.70,1094.70 L122.86,1094.72 L123.01,1094.74 L123.16,1094.77 L123.31,1094.81 L123.47,1094.85 L123.62,1094.89 L123.77,1094.93 L123.92,1094.98 L124.08,1095.02 L124.23,1095.07 L124.38,1095.11 L124.53,1095.15 L124.69,1095.19 L124.84,1095.23 L124.99,1095.26 L125.14,1095.28 L125.30,1095.30 L125.45,1095.32 L125.60,1095.32 L125.75,1095.32 L125.90,1095.30 L126.06,1095.28 L126.21,1095.26 L126.36,1095.23 L126.51,1095.19 L126.67,1095.15 L126.82,1095.11 L126.97,1095.07 L127.12,1095.02 L127.28,1094.98 L127.43,1094.93 L127.58,1094.89 L127.73,1094.85 L127.89,1094.81 L128.04,1094.77 L128.19,1094.74 L128.34,1094.72 L128.50,1094.70 L128.65,1094.68 L128.80,1094.68 L128.95,1094.68 L129.10,1094.70 L129.26,1094.72 L129.41,1094.74 L129.56,1094.77 L129.71,1094.81 L129.87,1094.85 L130.02,1094.89 L130.17,1094.93 L130.32,1094.98 L130.48,1095.02 L130.63,1095.07 L130.78,1095.11 L130.93,1095.15 L131.09,1095.19 L131.24,1095.23 L131.39,1095.26 L131.54,1095.28 L131.70,1095.30 L131.85,1095.32 L132.00,1095.32 L132.15,1095.32 L132.30,1095.30 L132.46,1095.28 L132.61,1095.26 L132.76,1095.23 L132.91,1095.19 L133.07,1095.15 L133.22,1095.11 L133.37,1095.07 L133.52,1095.02 L133.68,1094.98 L133.83,1094.93 L133.98,1094.89 L134.13,1094.85 L134.29,1094.81 L134.44,1094.77 L134.59,1094.74 L134.74,1094.72 L134.90,1094.70 L135.05,1094.68 L135.20,1094.68 L135.35,1094.68 L135.50,1094.70 L135.66,1094.72 L135.81,1094.74 L135.96,1094.77 L136.11,1094.81 L136.27,1094.85 L136.42,1094.89 L136.57,1094.93 L136.72,1094.98 L136.88,1095.02 L137.03,1095.07 L137.18,1095.11 L137.33,1095.15 L137.49,1095.19 L137.64,1095.23 L137.79,1095.26 L137.94,1095.28 L138.10,1095.30 L138.25,1095.32 L138.40,1095.32 L138.55,1095.32 L138.70,1095.30 L138.86,1095.28 L139.01,1095.26 L139.16,1095.23 L139.31,1095.19 L139.47,1095.15 L139.62,1095.11 L139.77,1095.07 L139.92,1095.02 L140.08,1094.98 L140.23,1094.93 L140.38,1094.89 L140.53,1094.85 L140.69,1094.81 L140.84,1094.77 L140.99,1094.74 L141.14,1094.72 L141.30,1094.70 L141.45,1094.68 L141.60,1094.68 L141.75,1094.68 L141.90,1094.70 L142.06,1094.72 L142.21,1094.74 L142.36,1094.77 L142.51,1094.81 L142.67,1094.85 L142.82,1094.89 L142.97,1094.93 L143.12,1094.98 L143.28,1095.02 L143.43,1095.07 L143.58,1095.11 L143.73,1095.15 L143.89,1095.19 L144.04,1095.23 L144.19,1095.26 L144.34,1095.28 L144.50,1095.30 L144.65,1095.32 L144.80,1095.32 L144.95,1095.32 L145.10,1095.30 L145.26,1095.28 L145.41,1095.26 L145.56,1095.23 L145.71,1095.19 L145.87,1095.15 L146.02,1095.11 L146.17,1095.07 L146.32,1095.02 L146.48,1094.98 L146.63,1094.93 L146.78,1094.89 L146.93,1094.85 L147.09,1094.81 L147.24,1094.77 L147.39,1094.74 L147.54,1094.72 L147.70,1094.70 L147.85,1094.68 L148.00,1094.68 L148.15,1094.68 L148.30,1094.70 L148.46,1094.72 L148.61,1094.74 L148.76,1094.77 L148.91,1094.81 L149.07,1094.85 L149.22,1094.89 L149.37,1094.93 L149.52,1094.98 L149.68,1095.02 L149.83,1095.07 L149.98,1095.11 L150.13,1095.15 L150.29,1095.19 L150.44,1095.23 L150.59,1095.26 L150.74,1095.28 L150.90,1095.30 L151.05,1095.32 L151.20,1095.32 L151.35,1095.32 L151.50,1095.30 L151.66,1095.28 L151.81,1095.26 L151.96,1095.23 L152.11,1095.19 L152.27,1095.15 L152.42,1095.11 L152.57,1095.07 L152.72,1095.02 L152.88,1094.98 L153.03,1094.93 L153.18,1094.89 L153.33,1094.85 L153.49,1094.81 L153.64,1094.77 L153.79,1094.74 L153.94,1094.72 L154.10,1094.70 L154.25,1094.68 L154.40,1094.68 L154.55,1094.68 L154.70,1094.69 L154.86,1094.70 L155.01,1094.71 L155.16,1094.73 L155.31,1094.74 L155.47,1094.76 L155.62,1094.78 L155.77,1094.81 L155.92,1094.83 L156.08,1094.85 L156.23,1094.87 L156.38,1094.90 L156.53,1094.92 L156.69,1094.94 L156.84,1094.95 L156.99,1094.97 L157.14,1094.98 L157.30,1094.99 L157.45,1095.00 L157.60,1095.00 L302.20,1095.00" fill="none" stroke="url(#g6)" stroke-width="1.8" stroke-linejoin="round" stroke-linecap="round"/>
<text transform="translate(10.7,1114.05) rotate(-90)" x="0" y="0" font-family="'Liberation Serif', serif" font-weight="bold" font-size="13.4" text-anchor="middle" textLength="250.7" lengthAdjust="spacingAndGlyphs" fill="#000">Infectious host humans in Foreign (tourist)</text>
<text x="182.85" y="1269.9" font-family="'Liberation Serif', serif" font-weight="bold" font-size="13.4" text-anchor="middle" textLength="65.9" lengthAdjust="spacingAndGlyphs" fill="#000">Time (Day)</text>
<text transform="translate(194.1,1296.3999999999999) scale(0.95,1)" font-family="'Liberation Sans', sans-serif" font-size="14" fill="#383838" text-anchor="middle">(g)</text>
<line x1="431.00" y1="981.40" x2="431.00" y2="1233.00" stroke="#7a7a7a" stroke-width="1.3"/>
<line x1="430.40" y1="1233.00" x2="684.10" y2="1233.00" stroke="#7a7a7a" stroke-width="1.4"/>
<line x1="683.60" y1="981.40" x2="683.60" y2="1233.00" stroke="#555" stroke-width="1"/>
<line x1="431.50" y1="1226.95" x2="432.80" y2="1226.95" stroke="#333" stroke-width="0.7"/>
<line x1="431.50" y1="1215.18" x2="432.80" y2="1215.18" stroke="#333" stroke-width="0.7"/>
<line x1="431.50" y1="1203.40" x2="433.80" y2="1203.40" stroke="#333" stroke-width="0.7"/>
<line x1="431.50" y1="1191.62" x2="432.80" y2="1191.62" stroke="#333" stroke-width="0.7"/>
<line x1="431.50" y1="1179.85" x2="432.80" y2="1179.85" stroke="#333" stroke-width="0.7"/>
<line x1="431.50" y1="1168.08" x2="432.80" y2="1168.08" stroke="#333" stroke-width="0.7"/>
<line x1="431.50" y1="1156.30" x2="433.80" y2="1156.30" stroke="#333" stroke-width="0.7"/>
<line x1="431.50" y1="1144.53" x2="432.80" y2="1144.53" stroke="#333" stroke-width="0.7"/>
<line x1="431.50" y1="1132.75" x2="432.80" y2="1132.75" stroke="#333" stroke-width="0.7"/>
<line x1="431.50" y1="1120.98" x2="432.80" y2="1120.98" stroke="#333" stroke-width="0.7"/>
<line x1="431.50" y1="1109.20" x2="433.80" y2="1109.20" stroke="#333" stroke-width="0.7"/>
<line x1="431.50" y1="1097.43" x2="432.80" y2="1097.43" stroke="#333" stroke-width="0.7"/>
<line x1="431.50" y1="1085.65" x2="432.80" y2="1085.65" stroke="#333" stroke-width="0.7"/>
<line x1="431.50" y1="1073.88" x2="432.80" y2="1073.88" stroke="#333" stroke-width="0.7"/>
<line x1="431.50" y1="1062.10" x2="433.80" y2="1062.10" stroke="#333" stroke-width="0.7"/>
<line x1="431.50" y1="1050.33" x2="432.80" y2="1050.33" stroke="#333" stroke-width="0.7"/>
<line x1="431.50" y1="1038.55" x2="432.80" y2="1038.55" stroke="#333" stroke-width="0.7"/>
<line x1="431.50" y1="1026.78" x2="432.80" y2="1026.78" stroke="#333" stroke-width="0.7"/>
<line x1="431.50" y1="1015.00" x2="433.80" y2="1015.00" stroke="#333" stroke-width="0.7"/>
<line x1="431.50" y1="1003.23" x2="432.80" y2="1003.23" stroke="#333" stroke-width="0.7"/>
<line x1="431.50" y1="991.45" x2="432.80" y2="991.45" stroke="#333" stroke-width="0.7"/>
<text transform="translate(427.60,1204.50) scale(0.88,1)" font-family="'Liberation Serif', serif" font-size="7.8" fill="#333" text-anchor="end">6</text>
<line x1="419.50" y1="1201.70" x2="423.10" y2="1201.70" stroke="#333" stroke-width="0.65"/>
<text transform="translate(419.00,1206.90) scale(0.88,1)" font-family="'Liberation Serif', serif" font-size="8" fill="#333" text-anchor="end">10</text>
<text transform="translate(410.40,1206.90)" font-family="'Liberation Serif', serif" font-size="8" fill="#333" text-anchor="end">×</text>
<text transform="translate(404.50,1206.90) scale(0.88,1)" font-family="'Liberation Serif', serif" font-size="8" fill="#333" text-anchor="end">1.</text>
<text transform="translate(427.60,1157.40) scale(0.88,1)" font-family="'Liberation Serif', serif" font-size="7.8" fill="#333" text-anchor="end">6</text>
<line x1="419.50" y1="1154.60" x2="423.10" y2="1154.60" stroke="#333" stroke-width="0.65"/>
<text transform="translate(419.00,1159.80) scale(0.88,1)" font-family="'Liberation Serif', serif" font-size="8" fill="#333" text-anchor="end">10</text>
<text transform="translate(410.40,1159.80)" font-family="'Liberation Serif', serif" font-size="8" fill="#333" text-anchor="end">×</text>
<text transform="translate(404.50,1159.80) scale(0.88,1)" font-family="'Liberation Serif', serif" font-size="8" fill="#333" text-anchor="end">1.2</text>
<text transform="translate(427.60,1110.30) scale(0.88,1)" font-family="'Liberation Serif', serif" font-size="7.8" fill="#333" text-anchor="end">6</text>
<line x1="419.50" y1="1107.50" x2="423.10" y2="1107.50" stroke="#333" stroke-width="0.65"/>
<text transform="translate(419.00,1112.70) scale(0.88,1)" font-family="'Liberation Serif', serif" font-size="8" fill="#333" text-anchor="end">10</text>
<text transform="translate(410.40,1112.70)" font-family="'Liberation Serif', serif" font-size="8" fill="#333" text-anchor="end">×</text>
<text transform="translate(404.50,1112.70) scale(0.88,1)" font-family="'Liberation Serif', serif" font-size="8" fill="#333" text-anchor="end">1.4</text>
<text transform="translate(427.60,1063.20) scale(0.88,1)" font-family="'Liberation Serif', serif" font-size="7.8" fill="#333" text-anchor="end">6</text>
<line x1="419.50" y1="1060.40" x2="423.10" y2="1060.40" stroke="#333" stroke-width="0.65"/>
<text transform="translate(419.00,1065.60) scale(0.88,1)" font-family="'Liberation Serif', serif" font-size="8" fill="#333" text-anchor="end">10</text>
<text transform="translate(410.40,1065.60)" font-family="'Liberation Serif', serif" font-size="8" fill="#333" text-anchor="end">×</text>
<text transform="translate(404.50,1065.60) scale(0.88,1)" font-family="'Liberation Serif', serif" font-size="8" fill="#333" text-anchor="end">1.6</text>
<text transform="translate(427.60,1016.10) scale(0.88,1)" font-family="'Liberation Serif', serif" font-size="7.8" fill="#333" text-anchor="end">6</text>
<line x1="419.50" y1="1013.30" x2="423.10" y2="1013.30" stroke="#333" stroke-width="0.65"/>
<text transform="translate(419.00,1018.50) scale(0.88,1)" font-family="'Liberation Serif', serif" font-size="8" fill="#333" text-anchor="end">10</text>
<text transform="translate(410.40,1018.50)" font-family="'Liberation Serif', serif" font-size="8" fill="#333" text-anchor="end">×</text>
<text transform="translate(404.50,1018.50) scale(0.88,1)" font-family="'Liberation Serif', serif" font-size="8" fill="#333" text-anchor="end">1.8</text>
<line x1="433.70" y1="1232.40" x2="433.70" y2="1231.10" stroke="#333" stroke-width="0.7"/>
<line x1="446.28" y1="1232.40" x2="446.28" y2="1231.10" stroke="#333" stroke-width="0.7"/>
<line x1="458.85" y1="1232.40" x2="458.85" y2="1231.10" stroke="#333" stroke-width="0.7"/>
<line x1="471.43" y1="1232.40" x2="471.43" y2="1231.10" stroke="#333" stroke-width="0.7"/>
<line x1="484.00" y1="1232.40" x2="484.00" y2="1230.10" stroke="#333" stroke-width="0.7"/>
<line x1="496.57" y1="1232.40" x2="496.57" y2="1231.10" stroke="#333" stroke-width="0.7"/>
<line x1="509.15" y1="1232.40" x2="509.15" y2="1231.10" stroke="#333" stroke-width="0.7"/>
<line x1="521.72" y1="1232.40" x2="521.72" y2="1231.10" stroke="#333" stroke-width="0.7"/>
<line x1="534.30" y1="1232.40" x2="534.30" y2="1231.10" stroke="#333" stroke-width="0.7"/>
<line x1="546.87" y1="1232.40" x2="546.87" y2="1230.10" stroke="#333" stroke-width="0.7"/>
<line x1="559.44" y1="1232.40" x2="559.44" y2="1231.10" stroke="#333" stroke-width="0.7"/>
<line x1="572.02" y1="1232.40" x2="572.02" y2="1231.10" stroke="#333" stroke-width="0.7"/>
<line x1="584.59" y1="1232.40" x2="584.59" y2="1231.10" stroke="#333" stroke-width="0.7"/>
<line x1="597.17" y1="1232.40" x2="597.17" y2="1231.10" stroke="#333" stroke-width="0.7"/>
<line x1="609.74" y1="1232.40" x2="609.74" y2="1230.10" stroke="#333" stroke-width="0.7"/>
<line x1="622.31" y1="1232.40" x2="622.31" y2="1231.10" stroke="#333" stroke-width="0.7"/>
<line x1="634.89" y1="1232.40" x2="634.89" y2="1231.10" stroke="#333" stroke-width="0.7"/>
<line x1="647.46" y1="1232.40" x2="647.46" y2="1231.10" stroke="#333" stroke-width="0.7"/>
<line x1="660.04" y1="1232.40" x2="660.04" y2="1231.10" stroke="#333" stroke-width="0.7"/>
<line x1="672.61" y1="1232.40" x2="672.61" y2="1230.10" stroke="#333" stroke-width="0.7"/>
<text transform="translate(484.00,1242.20) scale(0.83,1)" font-family="'Liberation Sans', sans-serif" font-size="7.6" fill="#2a2a2a" stroke="#2a2a2a" stroke-width="0.18" text-anchor="middle">1000</text>
<text transform="translate(546.87,1242.20) scale(0.83,1)" font-family="'Liberation Sans', sans-serif" font-size="7.6" fill="#2a2a2a" stroke="#2a2a2a" stroke-width="0.18" text-anchor="middle">2000</text>
<text transform="translate(609.74,1242.20) scale(0.83,1)" font-family="'Liberation Sans', sans-serif" font-size="7.6" fill="#2a2a2a" stroke="#2a2a2a" stroke-width="0.18" text-anchor="middle">3000</text>
<text transform="translate(672.61,1242.20) scale(0.83,1)" font-family="'Liberation Sans', sans-serif" font-size="7.6" fill="#2a2a2a" stroke="#2a2a2a" stroke-width="0.18" text-anchor="middle">4000</text>
<linearGradient id="g7" gradientUnits="userSpaceOnUse" x1="0" y1="982.60" x2="0" y2="1228.40"><stop offset="0.0000" stop-color="#ff1f1f"/><stop offset="0.1667" stop-color="#ff1fff"/><stop offset="0.3333" stop-color="#1f1fff"/><stop offset="0.5000" stop-color="#1fffff"/><stop offset="0.6667" stop-color="#1fff1f"/><stop offset="0.8333" stop-color="#ffff1f"/><stop offset="1.0000" stop-color="#ff1f1f"/></linearGradient>
<path d="M435.60,1219.60 L435.75,1207.84 L435.91,1191.44 L436.06,1171.38 L436.22,1148.62 L436.37,1124.13 L436.52,1098.89 L436.68,1073.86 L436.83,1050.02 L436.98,1028.34 L437.14,1009.78 L437.29,995.33 L437.45,985.94 L437.60,982.60 L437.75,983.75 L437.90,987.07 L438.06,992.37 L438.21,999.46 L438.36,1008.16 L438.51,1018.28 L438.66,1029.62 L438.82,1042.00 L438.97,1055.23 L439.12,1069.12 L439.27,1083.48 L439.42,1098.13 L439.58,1112.87 L439.73,1127.52 L439.88,1141.88 L440.03,1155.77 L440.18,1169.00 L440.34,1181.38 L440.49,1192.72 L440.64,1202.84 L440.79,1211.54 L440.94,1218.63 L441.10,1223.93 L441.25,1227.25 L441.40,1228.40 L441.55,1227.54 L441.70,1225.06 L441.86,1221.14 L442.01,1215.95 L442.16,1209.66 L442.31,1202.43 L442.47,1194.44 L442.62,1185.85 L442.77,1176.84 L442.92,1167.58 L443.08,1158.22 L443.23,1148.96 L443.38,1139.95 L443.53,1131.36 L443.69,1123.37 L443.84,1116.14 L443.99,1109.85 L444.14,1104.66 L444.30,1100.74 L444.45,1098.26 L444.60,1097.40 L444.75,1097.90 L444.91,1099.35 L445.06,1101.64 L445.22,1104.69 L445.37,1108.39 L445.53,1112.66 L445.68,1117.40 L445.84,1122.52 L445.99,1127.93 L446.15,1133.52 L446.30,1139.20 L446.45,1144.88 L446.61,1150.47 L446.76,1155.88 L446.92,1161.00 L447.07,1165.74 L447.23,1170.01 L447.38,1173.71 L447.54,1176.76 L447.69,1179.05 L447.85,1180.50 L448.00,1181.00 L448.15,1180.71 L448.31,1179.88 L448.46,1178.57 L448.62,1176.82 L448.77,1174.69 L448.93,1172.24 L449.08,1169.51 L449.24,1166.57 L449.39,1163.47 L449.55,1160.26 L449.70,1157.00 L449.85,1153.74 L450.01,1150.53 L450.16,1147.43 L450.32,1144.49 L450.47,1141.76 L450.63,1139.31 L450.78,1137.18 L450.94,1135.43 L451.09,1134.12 L451.25,1133.29 L451.40,1133.00 L451.55,1133.15 L451.70,1133.59 L451.85,1134.29 L452.00,1135.22 L452.15,1136.36 L452.30,1137.69 L452.45,1139.17 L452.60,1140.78 L452.75,1142.49 L452.90,1144.28 L453.05,1146.13 L453.20,1148.00 L453.35,1149.87 L453.50,1151.72 L453.65,1153.51 L453.80,1155.22 L453.95,1156.83 L454.10,1158.31 L454.25,1159.64 L454.40,1160.78 L454.55,1161.71 L454.70,1162.41 L454.85,1162.85 L455.00,1163.00 L455.15,1162.91 L455.30,1162.65 L455.45,1162.24 L455.60,1161.70 L455.75,1161.03 L455.90,1160.25 L456.05,1159.38 L456.20,1158.44 L456.35,1157.43 L456.50,1156.38 L456.65,1155.30 L456.80,1154.20 L456.95,1153.10 L457.10,1152.02 L457.25,1150.97 L457.40,1149.96 L457.55,1149.02 L457.70,1148.15 L457.85,1147.37 L458.00,1146.70 L458.15,1146.16 L458.30,1145.75 L458.45,1145.49 L458.60,1145.40 L458.75,1145.46 L458.91,1145.63 L459.06,1145.91 L459.22,1146.27 L459.37,1146.71 L459.53,1147.23 L459.68,1147.79 L459.84,1148.41 L459.99,1149.05 L460.15,1149.72 L460.30,1150.40 L460.45,1151.08 L460.61,1151.75 L460.76,1152.39 L460.92,1153.01 L461.07,1153.57 L461.23,1154.09 L461.38,1154.53 L461.54,1154.89 L461.69,1155.17 L461.85,1155.34 L462.00,1155.40 L462.15,1155.37 L462.30,1155.28 L462.45,1155.14 L462.60,1154.96 L462.75,1154.73 L462.90,1154.46 L463.05,1154.17 L463.20,1153.84 L463.35,1153.50 L463.50,1153.14 L463.65,1152.77 L463.80,1152.40 L463.95,1152.03 L464.10,1151.66 L464.25,1151.30 L464.40,1150.96 L464.55,1150.63 L464.70,1150.34 L464.85,1150.07 L465.00,1149.84 L465.15,1149.66 L465.30,1149.52 L465.45,1149.43 L465.60,1149.40 L465.75,1149.42 L465.91,1149.49 L466.06,1149.60 L466.22,1149.75 L466.37,1149.93 L466.53,1150.13 L466.68,1150.36 L466.84,1150.60 L466.99,1150.86 L467.15,1151.13 L467.30,1151.40 L467.45,1151.67 L467.61,1151.94 L467.76,1152.20 L467.92,1152.44 L468.07,1152.67 L468.23,1152.87 L468.38,1153.05 L468.54,1153.20 L468.69,1153.31 L468.85,1153.38 L469.00,1153.40 L469.15,1153.39 L469.31,1153.34 L469.46,1153.28 L469.62,1153.19 L469.77,1153.08 L469.93,1152.96 L470.08,1152.83 L470.24,1152.68 L470.39,1152.52 L470.55,1152.36 L470.70,1152.20 L470.85,1152.04 L471.01,1151.88 L471.16,1151.72 L471.32,1151.57 L471.47,1151.44 L471.63,1151.32 L471.78,1151.21 L471.94,1151.12 L472.09,1151.06 L472.25,1151.01 L472.40,1151.00 L472.55,1151.01 L472.71,1151.04 L472.86,1151.08 L473.02,1151.14 L473.17,1151.21 L473.33,1151.29 L473.48,1151.38 L473.64,1151.48 L473.79,1151.58 L473.95,1151.69 L474.10,1151.80 L474.25,1151.91 L474.41,1152.02 L474.56,1152.12 L474.72,1152.22 L474.87,1152.31 L475.03,1152.39 L475.18,1152.46 L475.34,1152.52 L475.49,1152.56 L475.65,1152.59 L475.80,1152.60 L475.95,1152.59 L476.11,1152.58 L476.26,1152.55 L476.42,1152.52 L476.57,1152.47 L476.73,1152.42 L476.88,1152.37 L477.04,1152.31 L477.19,1152.25 L477.35,1152.19 L477.50,1152.12 L477.65,1152.05 L477.81,1151.99 L477.96,1151.93 L478.12,1151.87 L478.27,1151.82 L478.43,1151.77 L478.58,1151.72 L478.74,1151.69 L478.89,1151.66 L479.05,1151.65 L479.20,1151.64 L479.35,1151.64 L479.51,1151.65 L479.66,1151.66 L479.82,1151.67 L479.97,1151.69 L480.13,1151.71 L480.28,1151.73 L480.44,1151.75 L480.59,1151.77 L480.75,1151.80 L480.90,1151.82 L481.05,1151.84 L481.21,1151.87 L481.36,1151.89 L481.52,1151.91 L481.67,1151.93 L481.83,1151.95 L481.98,1151.97 L482.14,1151.98 L482.29,1151.99 L482.45,1152.00 L482.60,1152.00 L679.00,1152.00" fill="none" stroke="url(#g7)" stroke-width="1.8" stroke-linejoin="round" stroke-linecap="round"/>
<text transform="translate(371.9,1118.65) rotate(-90)" x="0" y="0" font-family="'Liberation Serif', serif" font-weight="bold" font-size="13.4" text-anchor="middle" textLength="273.7" lengthAdjust="spacingAndGlyphs" fill="#000">Host humans quarantined in Foreign (tourist)</text>
<text x="539.50" y="1270.3" font-family="'Liberation Serif', serif" font-weight="bold" font-size="13.4" text-anchor="middle" textLength="68.0" lengthAdjust="spacingAndGlyphs" fill="#000">Time (Day)</text>
<text transform="translate(539.1,1296.1) scale(0.95,1)" font-family="'Liberation Sans', sans-serif" font-size="14" fill="#383838" text-anchor="middle">(h)</text>
</svg>
</body></html>
